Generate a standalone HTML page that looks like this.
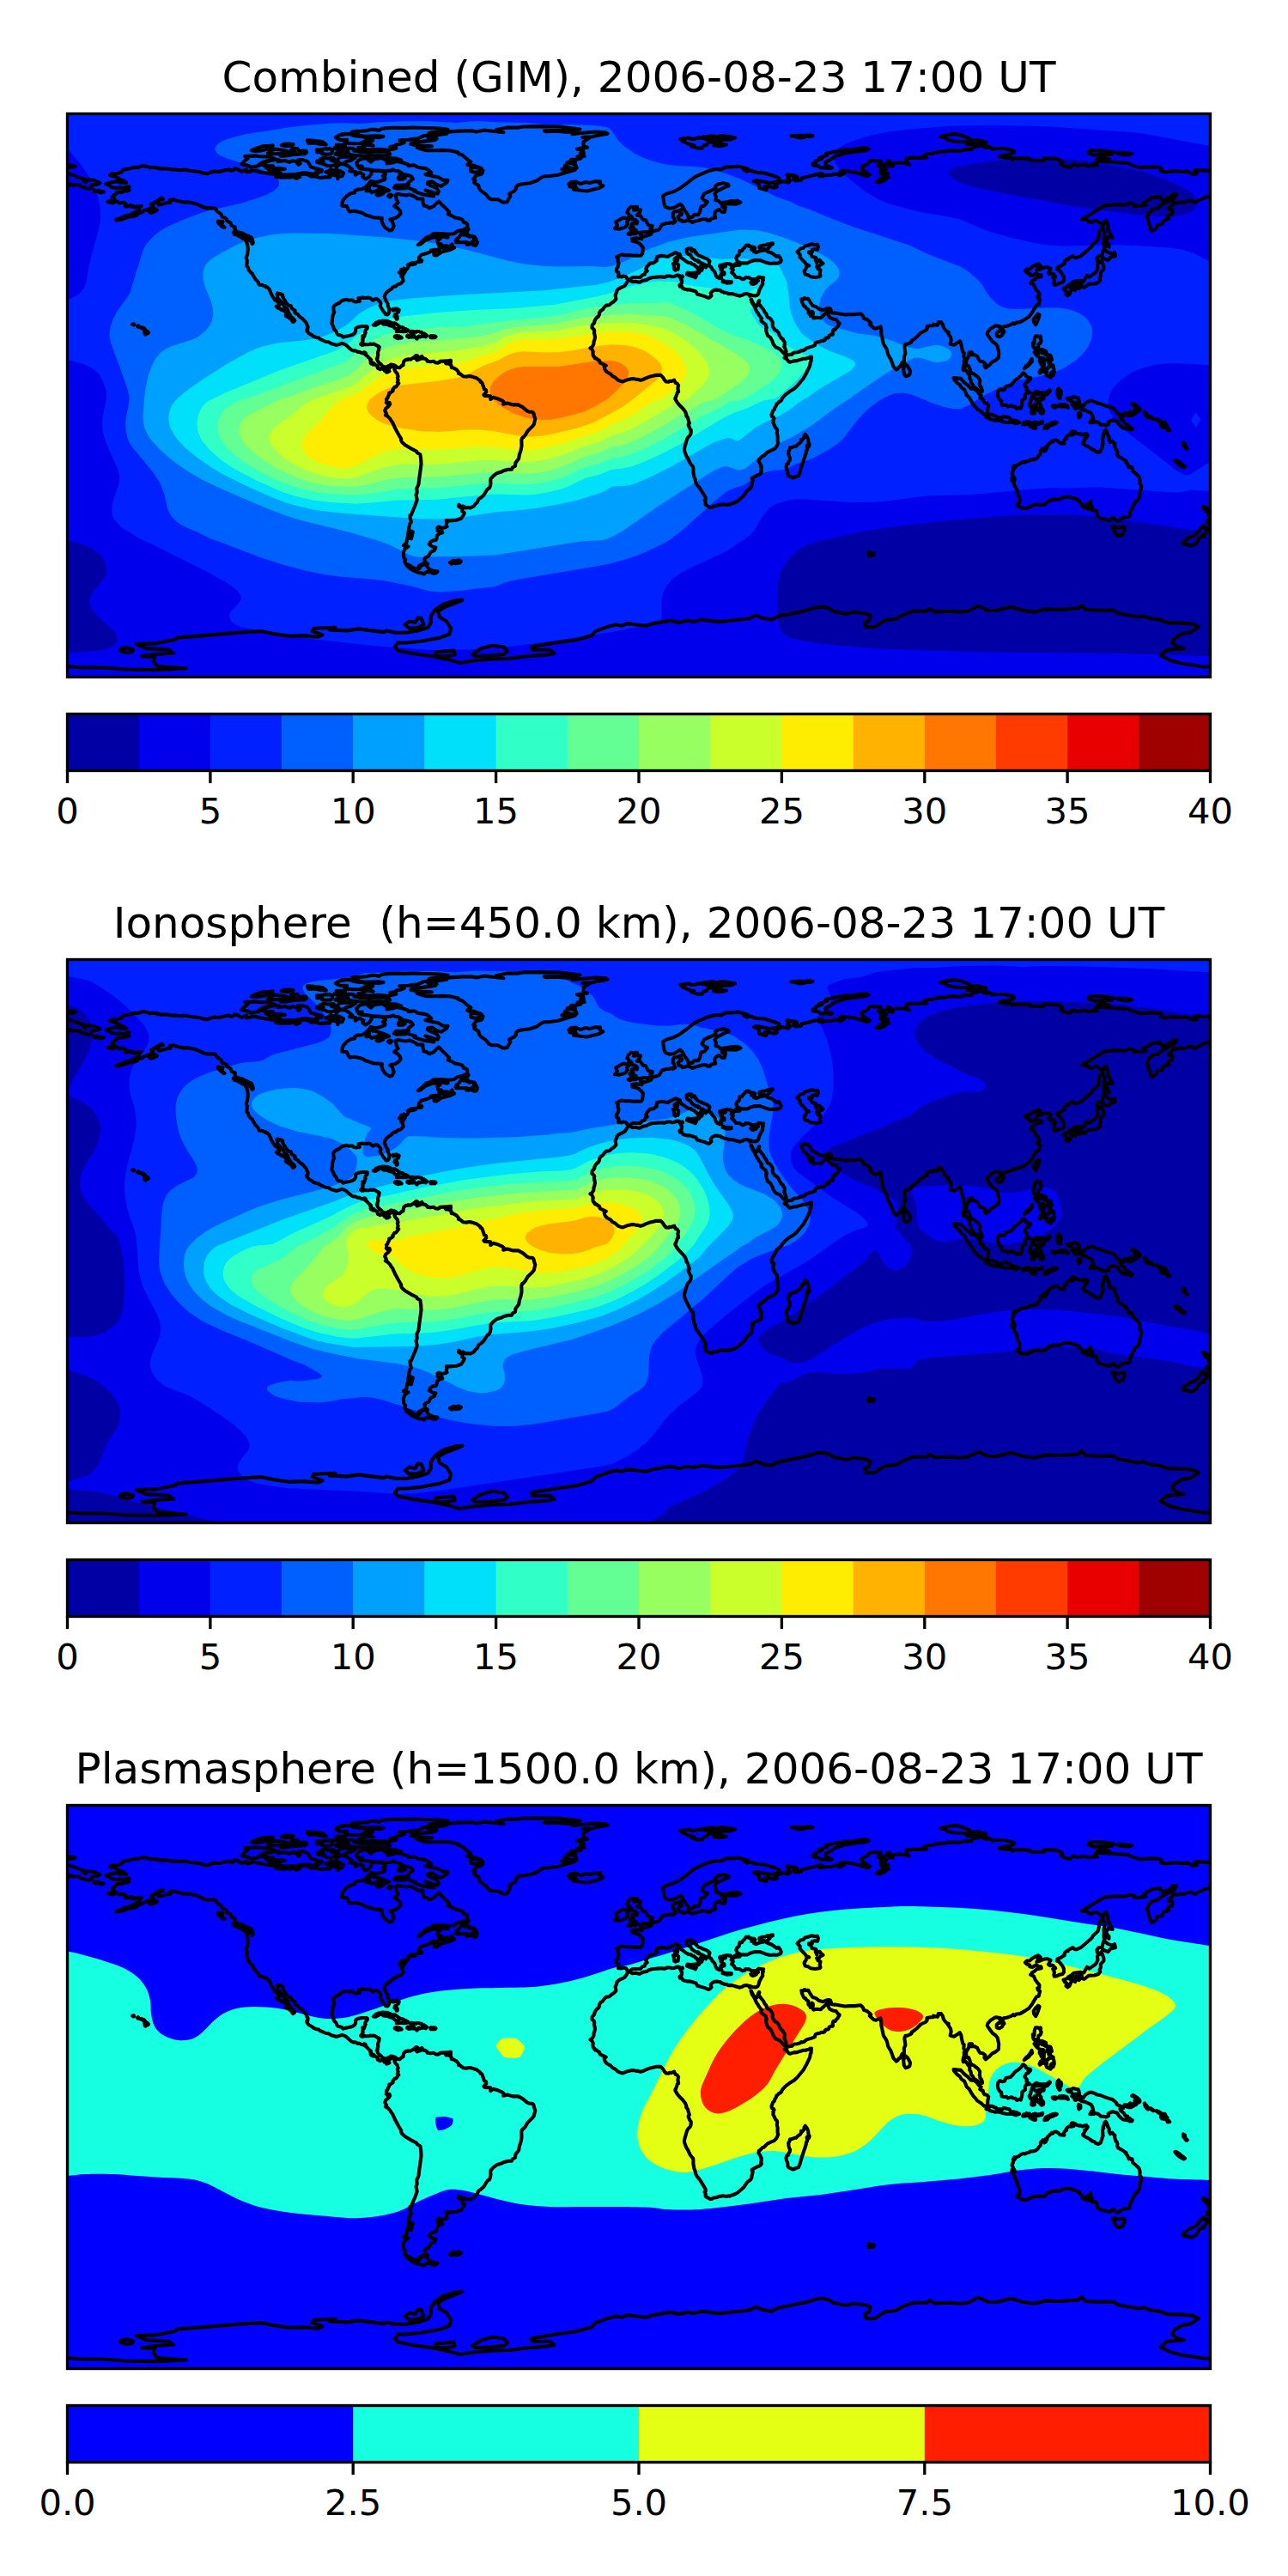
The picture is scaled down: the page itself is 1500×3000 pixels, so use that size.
<!DOCTYPE html>
<html lang="en"><head><meta charset="utf-8"><title>GIM / Ionosphere / Plasmasphere TEC maps</title>
<style>html,body{margin:0;padding:0;background:#fff}body{width:1500px;height:3000px;overflow:hidden}svg{display:block}text{font-family:"DejaVu Sans","Liberation Sans",sans-serif;fill:#000;white-space:pre}</style></head><body>
<svg width="1500" height="3000" viewBox="0 0 1500 3000">
<rect width="1500" height="3000" fill="#fff"/>
<defs><clipPath id="ax"><rect x="0" y="0" width="1331" height="656"/></clipPath>
<path id="coast" d="M44.6 81.7L49.9 80.2L58.1 78.4L61.1 80.2L68.6 80.2L65.6 78L61.1 76.5L58.5 74.6L54.7 73.1L49.5 71.6L51.7 69.7L58.5 69.7L63 67.9L64.1 66L67.9 64.5L71.6 64.1L78.7 62.2L82.1 62.6L87.7 60.4L93.4 61.5L96.4 63L97.9 62.2L104.2 62.6L103.9 63.4L109.9 64.1L113.6 63.7L121.5 64.9L128.6 65.2L131.6 65.7L136.5 65.1L142.1 66.2L146.2 66.7L153.3 67.5L159.3 69.4L163.1 69.7L166.5 68.2L171 67.1L176.6 67.5L182.2 66L188.2 64.9L190.8 66.4L193.5 65.6L194.6 63.7L197.2 64.1L203.2 67.5L208.5 64.9L208.8 67.9L213.3 67.1L214.8 66L219.3 66.4L225.3 67.9L234 69.4L239.2 70.1L243 69.7L247.8 71.6L242.6 73.5L249.3 74.2L259.5 73.9L262.8 73.2L266.6 75.4L270.7 73.5L266.9 72L269.2 70.7L273.9 70.5L276.7 70.1L280.1 70.9L283.8 73.1L287.9 72.7L294.3 74.6L300.3 73.9L305.9 73.9L305.2 71.6L308.6 70.9L314.6 72.4L314.6 75.7L316.8 72.7L319.8 72.7L321.7 69L317.6 66.7L313.1 65.2L313.4 61.1L317.9 58.5L322.8 58.9L326.6 60.7L331.8 64.9L328.4 66.7L335.6 67.5L335.2 71.2L337.4 69.7L340.4 68.2L344.9 70.9L343.8 73.5L347.2 76.1L351.3 73.5L353.9 70.1L354.3 66L359.6 66.4L365.2 66.7L370.1 68.6L370.4 70.5L367.4 72.7L370.1 74.6L369.7 76.5L362.6 79.1L357.3 79.5L353.2 78.4L352.1 80.2L348.7 83.6L347.6 85.1L343.1 87.7L337.8 88.1L334.8 89.6L334.4 92L330.3 92.6L325.4 95.6L321.7 99.7L320.2 102.7L319.8 107.2L325.4 107.6L326.9 111.4L328.8 114L334.1 113.2L341.2 114.7L344.9 116.2L347.6 118.1L352.1 119.2L356.2 120.7L362.2 121.1L366.3 121.5L365.9 124.5L367.1 128.2L369.7 132.4L375.3 136.1L378.3 135L380.2 130.9L378.3 125.2L375.7 123L381.7 121.5L385.8 118.9L388.1 116.2L387.7 113.6L385.1 110.2L380.6 107.6L385.1 103.5L383.2 100.1L382.1 94.5L384.7 93.4L391.1 94.5L394.8 94.9L398.2 94.1L401.5 95.2L406 97.5L407.2 99L413.9 99L413.9 102.4L415 107L418.4 107.6L421.4 109.9L426.7 107.6L430.4 103.5L432.7 102L435.7 105.4L440.5 109.9L444.7 114.5L443.2 117L448 118.9L451.4 121.1L457.5 122.2L460 123.4L461.5 126.4L464.2 127.1L465.7 128.2L466 132.7L463.4 133.8L460.8 135.3L454.4 136.5L449.9 139.8L443.5 140.2L435.3 139.5L429.7 139.5L425.9 139.8L422.9 142.5L418 144L412.6 149.2L408.3 152.6L411.3 151.8L417.5 147L425.4 144L430.8 143.6L434.2 145.5L430.8 147.7L431.9 151.8L433 154.8L437.9 156.7L444.3 156L448 151.8L448.4 154.5L450.7 156L446.2 158.2L437.5 160.5L434.2 162L429.7 165L427 164.6L426.7 161.2L433.4 158.2L427.4 158.2L423.3 159L423.8 160.1L419.9 162L415.8 163.2L412 164.2L410.2 166.5L409.4 167.2L409.4 169.5L410.5 171.3L412 171.3L411.7 170.2L412.8 171L412.5 172.1L410.2 172.5L408.3 172.5L405.3 173.2L401.5 173.6L398.6 174.7L404.2 174L405.3 174.7L401.2 175.8L397.6 175.3L396.3 176.2L397.6 176.6L396.7 179.2L394.1 182.2L393.8 181.1L392.9 181.1L391.8 180L392.6 182L393.3 182.6L393.3 184.1L392.2 185.6L390.3 188.6L389.9 188.2L391.1 186L389.2 184.5L388.6 181.3L388.1 183L388.8 185.2L386.2 184.8L388.8 186L388.8 189.5L390 189.7L390.3 190.8L391.1 194.6L388.4 197.6L384.7 198.7L382.2 201L380.2 201.1L378.3 202.5L377.9 203.6L373.8 206.2L371.6 208.1L370.1 210.3L369.3 213L370.1 215.6L371.3 218.6L373.1 221.2L373.1 223.1L374.6 227.2L374.6 231.3L373.4 233.6L372.3 234L370.4 233.6L370.1 232.1L368.6 231L366.7 228L364.8 225L364.1 223.5L365 221L364.1 219L361.1 216L359.6 215.2L355.8 217.1L355.1 216.7L353.2 215L350.9 214.1L346.8 214.5L343.4 214.1L340.4 214.5L338.9 214.8L339.7 216L339.7 217.5L340.4 218.2L339.7 218.6L338.2 218.2L336.9 219L334.1 218.8L331.4 216.7L328.1 217.3L325.4 216.3L323 216.7L319.8 217.5L316.4 220.5L312.7 222L310.8 223.8L309.7 225.3L310.1 229.8L310.8 231L309.3 234.4L308.6 237L308.2 242.2L307.8 244.1L308.6 246L309.7 247.8L310.4 250.8L313.1 253.5L313.8 255.7L315.3 257.6L319.4 258.3L320.9 260.2L324.3 259.1L326.9 258.7L329.9 258L332.2 257.2L334.4 255.7L335.6 253.5L335.7 250.5L336.3 249.3L338.9 248.2L343.1 247.5L346.1 247.5L348.3 247.5L349.4 248.2L349.2 249.9L347.2 252L346.4 254.6L347.2 255L346.4 256.8L345.7 259.5L344.6 258.7L343.8 258.7L343.8 259.3L344.6 259.3L344.6 260.2L343.8 262.1L344.2 262.5L343.8 264L344.2 264.3L343.4 266.2L342.7 266.9L342.3 267.3L341.6 268.4L342.7 269.2L343.1 268.4L344.2 269.2L344.6 269.2L345.3 268.4L346.4 268.4L346.8 268.8L347.2 268.8L349.1 268.8L350.9 268.8L352.1 268.4L352.4 268.1L353.6 268.3L354.7 268.4L355.4 268.4L356.3 268.1L358.1 268.4L358.4 268.8L359.9 269.6L360.7 270.3L362.2 270.7L363.3 271.8L362.9 272.2L362.6 272.9L362.9 274.4L362.2 275.7L361.8 277.1L361.4 278.9L361.8 279.7L361.8 281.6L361.4 281.9L361.1 283.4L361.2 284.6L360.3 285.3L360.7 286.4L361.1 287.2L362.2 289.1L363.7 290.6L365.6 292.1L366.7 293.6L366.7 294.4L368.2 294.5L368.6 294.3L369.7 295.1L371.6 294.8L373.1 293.9L375.3 293.2L376.4 292.1L378.7 292.3L378.3 292.6L380.6 292.8L382.1 293.6L383.6 294.7L384.7 295.4L386.9 295.8L389.6 293.2L391.1 292.8L391.1 291.3L391.8 288.3L394.1 286.4L396.3 286.4L396.7 285.7L399.7 286.1L402.7 284.2L404.2 283.2L405.9 281.6L407.2 281.6L408.3 282.7L407.5 283.8L405 284.6L407.5 286.9L407.2 286.9L411.7 285.3L411.3 283.6L412.8 282.3L413.9 284.9L416.5 285.3L419.2 287.2L419.2 288.3L422.5 288.7L426.7 288.3L428.5 289.8L431.5 290.2L433.8 289.1L433.8 288.3L442.8 287.9L439.8 289.1L440.9 290.9L443.9 290.9L446.9 292.8L447.3 295.8L449.2 295.8L453.3 298.1L455.5 300.7L455.5 302.6L457 302.6L460.8 305.7L465.3 306.3L465.7 305.8L468.7 305.6L472.6 306.5L473.9 307.1L476.5 307.8L480.7 310.8L481 312.3L482.5 312.7L483.3 314.4L485.5 320.9L487.5 321.7L487.8 324.1L484.8 327.3L485.9 328.4L492.7 328.8L492.7 332.6L495.7 330.3L500.2 331.4L506.5 334.1L508.4 335.9L507.7 338.2L512.2 337.1L519.3 338.9L525 338.9L530.5 341.9L535.4 346.1L538 347.2L541.4 347.2L542.9 348.7L544 353.2L544.8 355.4L543.3 361.8L541.4 364.1L536.1 369.3L533.5 373.8L530.9 376.8L529.8 377.2L528.8 379.8L529 386.9L527.9 392.6L526.4 396.7L525.7 401.5L521.9 406.4L521.5 410.2L518.3 412L517.4 414.2L513.3 414.2L507.7 415.8L504.7 417.3L500.5 418.4L496.4 421.4L493 425.2L492.7 427.8L493 430L492.3 433.8L491.5 435.7L488.9 437.5L484.8 444.2L481.4 447.3L478.8 448.8L477.3 452.5L474.7 454.8L473.2 457L469 459.1L466 458.5L464.2 458.9L460.8 457L458.2 457.4L455.9 455.2L455.5 457L460.4 460.4L459.7 463L462.3 464.5L461.9 466.4L458.5 471.3L452.9 473.2L445.4 473.9L441.3 473.5L442 475.8L441.3 478.8L442 480.7L439.8 481.8L435.7 482.5L432.3 481L430.8 482.2L431.2 485.9L433.8 487L435.7 485.5L436.8 487.8L433.4 488.9L430.4 491.2L430 494.9L428.9 496.8L425.5 496.8L422.5 499L421.4 501.7L425.2 504.3L428.9 505L427.5 508.4L422.9 510.7L420.7 515.2L417.3 516.7L415.8 518.2L416.9 522.3L419.5 524.2L417.7 524.2L414.3 523.6L412.6 524.9L409.4 526.4L408.7 529.8L407.2 530.2L402.7 528.7L398.6 526L394.1 524.2L392.6 521.5L393.8 519.3L391.8 517L391.4 510.7L392.9 506.9L397.1 503.9L391.4 502.8L394.8 499.8L395.9 493.4L400.4 494.9L402.3 487L399.7 485.9L398.6 490.8L396.3 490L397.4 484.8L398.6 477.7L400.4 475.4L399.3 471.7L398.9 467.5L400.4 467.2L402.7 461.2L405.3 455.2L407.2 449.5L406 443.9L407.2 440.9L406.8 436.4L409 431.5L409.8 424.4L410.9 416.5L412 408.3L411.7 402.3L410.9 396.7L407.2 394.8L406.8 393.3L399.7 389.6L392.9 385.4L389.9 382.8L388.4 379.8L388.8 378.7L385.8 373.8L382.1 367.1L378.7 359.6L377.2 357.7L375.7 355.1L373.1 352.4L370.4 350.9L371.6 349.4L369.7 345.7L370.8 343.1L373.8 340.8L375.7 338.2L375 336.3L373.4 338.2L371.3 336.3L371.9 335.4L371.6 332.2L372.7 331.4L373.4 329.2L374.9 326.6L374.6 325.1L376.8 324.4L379.1 322.8L378.7 321.7L380.2 319.4L380.9 318.3L382.8 317.9L385.8 313.8L384.3 312.7L385.1 310.4L384.3 307.1L385.1 306.3L384.3 302.9L382.8 301.1L381.7 299.9L380.9 297.7L381.7 296.9L380.9 296.6L380.2 295.4L378.3 294.3L376.4 294.7L375.7 295.8L374.2 296.9L373.4 296.9L373.1 297.7L374.9 299.9L373.8 300.3L373.4 300.7L371.6 301.1L370.8 298.8L370.4 299.6L369.3 299.2L368.6 297.7L367.1 297.3L365.9 296.9L364.4 296.9L364.1 297.7L363.8 297.3L361.8 296.6L361.1 295.4L361.4 295.1L361.4 293.9L360.3 293.2L357.7 292.1L357.3 290.9L356.3 290.2L356.6 291.3L355.8 292.1L355.1 291.3L353.6 290.9L353.2 290.2L353.2 289.1L353.6 287.6L352.8 287.2L353.6 286.4L350.6 283.8L349.8 282.7L347.9 281.2L346.1 279.7L347.2 279.7L347.6 279.4L346.8 278.2L345.7 277.8L345.3 278.9L343.1 278.6L341.9 278.2L340.1 277.4L338.2 277.4L337.1 276.7L335.2 275.9L332.9 275.9L331.1 275.2L329.2 273.7L324.7 269.6L322.8 268.4L319.8 267.3L317.6 268.1L314.6 269L312.7 269.4L310.1 268.4L307.4 267.7L304.1 265.8L301.1 265.5L296.9 263.6L293.6 262.1L292.8 261L290.6 260.7L286.8 259.5L285.3 258L281.2 255.7L279.3 253.5L278.6 251.6L279.7 251.2L279.3 250.1L280.1 249L280.1 247.8L278.9 246L278.6 244.5L277.4 242.6L274.1 238.8L270.3 236.2L268.4 233.6L265.1 232.1L264.7 231.3L265.1 229.1L263.2 228L261 226.1L260.2 223.5L258 223.5L255.7 221.2L254.2 219.5L253.8 218.2L252 215.6L250.5 212.6L250.8 211.1L247.8 209.6L246.7 210L244.5 208.8L244.1 210.3L244.5 212.2L244.8 214.8L250.1 220.1L250.8 221.6L251.4 221.6L252 223.8L253.1 225L254.2 226.1L256.5 228L257.6 231.7L258.7 233.2L259.8 235.1L259.8 237L261.7 237L263.2 238.8L264.7 240.3L264.7 241.1L262.8 242.6L262.5 242.6L261.3 240.3L258.9 238.1L256.1 236.2L254.2 235.5L254.6 232.5L253.8 230.6L252 229.5L249.3 227.6L249 228.3L248.2 227.2L245.6 226.5L243.3 224.2L243.8 223.8L245.2 224.2L246.7 222.7L246.7 220.8L244.1 218.2L241.8 217.1L240.3 214.8L238.8 212.6L237.3 209.6L235.8 206.2L235.1 204.3L232.8 202.1L231 201.7L230.6 200.6L228.3 200.2L227.2 199.5L223.5 199.1L222.7 198.3L222.3 196.1L218.6 192.3L215.6 187.1L215.6 186.3L213.9 185.2L211.1 182L210.3 178.8L208.5 177L209.2 174L209.2 170.6L208.1 167.6L209.6 164.2L210.3 157.5L209.6 152.2L208.5 149.2L207.3 147.3L207.7 146.6L213.3 148.1L215.2 151.5L216.3 150.3L215.6 147.3L214.5 144.3L213.3 143.6L206.6 140.7L204 139.1L197.2 137.6L195 134.2L195.3 132L190.8 130.1L190.1 127.1L185.6 124.5L185.6 122.6L183.3 121.1L180.1 120L178.8 116.6L174.3 113.6L172.1 110.2L168.7 109.9L162.7 109.9L158.2 108.7L150.3 105L140.2 102.7L135.1 103.1L127.9 101.2L123.4 99.7L119.2 100.5L120 103.2L117.7 103.5L113.6 104.2L110.2 105.4L106.1 106.1L105.4 104.2L107.2 100.5L111.4 99.4L110.2 98.2L105.4 100.5L102.7 102.7L97.5 105.4L100.1 107.2L96.7 110.2L92.6 111.7L88.9 112.9L87.7 114.4L82.1 116.2L81 118.1L76.5 119.6L73.9 119.6L70.5 120.4L66.7 121.9L63.4 123L57 124.1L56.6 123.4L60.7 121.9L64.1 120.7L68.2 118.5L72.7 118.1L74.6 116.6L79.9 114.4L80.6 113.6L83.6 112.1L84 109.5L86.2 107.2L81.7 108.4L80.6 107.6L78.4 109.1L76.1 107.2L75.1 108.4L73.5 106.5L69.7 108L67.6 108L67.1 105.7L67.9 104.6L65.6 103.1L60.7 103.9L57.4 102L55.1 101.2L54.7 99L52.1 97.5L53.6 95.2L56.6 93.4L57.7 91.5L60.7 91.1L63.4 91.5L66.4 90L69.4 90L72 88.9L71.4 87.4L69.4 86.6L72 85.1L69.7 85.1L65.6 85.9L64.5 87L61.9 85.9L56.4 86.6L51 85.5L49.5 84L44.6 81.7ZM407.2 39.4L416.9 38.2L424.4 37.9L408.7 37.1L400 35.6L400.4 34.1L428.5 30.4L430 28.9L419.9 27.7L422.9 26.2L438.7 23.6L441.7 23.2L439.8 21.4L448.8 20.6L460.4 19.9L472 19.9L476.2 21L485.9 19.1L494.9 20.2L500.2 20.7L508 21.7L499 19.9L499.4 18.4L512.2 16.1L525.3 16.1L530.2 15L543.3 14.6L573.3 15L596.9 18L589.8 19.5L575.5 19.5L555.3 19.9L557.1 20.6L570.3 20.2L581.9 21.4L589 20.2L592 21.7L587.9 23.6L597.6 22.5L615.6 21L626.9 21.7L629.1 23.2L613.8 25.9L611.7 26.8L599.9 27.4L608.5 27.7L604 30.4L601 32.6L601 37.1L605.5 39.4L599.9 39.7L593.5 40.9L600.6 42.7L601.4 46.1L597.3 46.1L602.1 49.5L593.9 49.9L598.4 51.4L596.9 52.5L591.6 53.2L586.4 53.2L591.3 55.9L591.3 57.4L583.8 55.9L581.9 57L587.1 57.7L592 60L593.1 63L586.8 63.7L583.8 62.2L579.3 60.4L580.4 62.6L575.9 64.9L586 64.9L591.3 65.2L581.1 68.2L571 71.2L559.8 72.7L555.6 72.7L551.9 74.2L546.6 78L538.4 80.7L536.1 81L530.9 81.7L525.7 82.5L522.3 85.1L522.3 87.7L520.4 90L514.4 93L515.9 96L514 99L512.2 102.7L506.9 103.1L501.3 99.7L493.8 99.7L490.4 97.9L487.8 94.1L481.4 89.6L479.5 87L478.8 83.6L473.5 80.2L475 77.6L472.5 76.1L476.2 71.6L481.8 70.5L483.3 69L484 66L479.9 67.1L477.7 67.9L474.3 68.2L469.8 67.1L469.6 64.5L470.9 62.6L474.7 62.6L482.2 63.4L475.8 61.1L472.4 60L468.7 60.4L465.7 59.2L469.8 55.9L467.5 54.4L464.5 52.1L460 48L455.2 46.5L455.2 45L445 42.7L437.2 42.4L427 42.7L418 42.7L413.5 41.6ZM1349.7 84.4L1344.9 86.2L1340 85.9L1343.4 87.7L1345.6 90.9L1347.5 91.9L1347.9 93.4L1346.7 94.5L1340 93.7L1329.5 96.4L1326.1 96.9L1320.3 99.5L1314.9 102L1313.4 103.5L1308.1 100.9L1298.4 103.9L1296.5 102.4L1293.1 104.2L1287.9 103.5L1286.8 106.1L1282.3 109.9L1282.4 111.4L1286.8 112.1L1286.4 117.4L1282.6 117.7L1281.1 120.7L1282.6 122.2L1276.3 124.5L1274.8 128.6L1269.1 129.5L1268 133.5L1262.8 136.8L1261.3 134.2L1259.7 128.6L1257.5 120.4L1259.4 115.1L1262.8 112.9L1262.8 111.4L1268.8 110.2L1275.3 105.7L1281.9 102L1288.6 99L1291.6 93.5L1287.1 93.7L1284.9 97.1L1275.1 101.2L1272.1 96.4L1262.4 97.9L1253 103.9L1256 106.5L1247.8 107.2L1242.1 107.6L1242.1 105L1236.5 104.2L1231.6 106.1L1220.4 105.7L1208 106.9L1195.9 114L1181.4 123L1187.4 123.4L1189.3 125.7L1193 126.4L1195.3 124.5L1199.4 124.9L1204.6 129L1205 132.4L1202 136.1L1201.6 140.6L1200.1 146.6L1194.5 151.8L1193 154.5L1180.7 165.3L1175.4 167.6L1173.2 167.6L1170.9 165.7L1165.7 168.3L1165.3 169.8L1163.8 169.5L1162.2 171L1161.2 172.1L1161.2 174.7L1159.3 175.5L1158.5 176.2L1157 177.3L1154.7 178.1L1152.9 178.8L1152.9 180.7L1152.5 181.1L1154 181.1L1155.9 183.3L1159.3 187.8L1160.4 190.1L1160.4 194.6L1158.9 196.5L1155.5 197.2L1152.5 198.7L1149.2 199.1L1148.8 197.2L1149.5 194.2L1147.7 190.5L1150.7 189.7L1148 186.7L1146.2 186L1144.7 186.7L1142.4 185.2L1143.5 183.7L1143.9 182.6L1145 180.3L1142.4 179.2L1140.9 178.5L1135.7 179.6L1132.7 181.1L1128.7 182.2L1130.8 180.3L1130 179L1133 176.6L1130.8 174.7L1127.8 175.8L1123.3 178.5L1121 180.9L1117.3 181.1L1115.4 183L1117.7 185.2L1120.7 186L1120.7 187.8L1123.7 188.6L1127.8 186L1131.2 187.5L1133.8 187.7L1134.2 189.7L1128.9 190.7L1127 192.7L1123.7 194.6L1121.6 197.2L1125.5 199.1L1127 202.8L1129.3 206.2L1131.9 209.2L1131.9 212.2L1129.7 213L1130.4 215.2L1132.7 216.3L1131.9 219.3L1131.2 222.3L1128.9 222.7L1126.3 226.6L1123.3 231.7L1119.9 236.2L1114.7 239.6L1109.4 242.6L1105.3 243L1102.9 244.8L1101.5 243.7L1099.3 245.4L1094 247.3L1090.3 247.8L1088.8 252L1086.9 252L1085.8 249.3L1086.9 247.8L1081.7 246.7L1080 247.3L1074.9 250.5L1071.9 254L1071.2 256.5L1073.8 260.6L1077.5 265.5L1080.9 267.7L1083.2 270.7L1084.7 277.8L1084.3 284.2L1081.3 286.8L1076.8 289.1L1073.8 292.4L1069.3 295.8L1067.8 293.6L1068.9 290.9L1065.9 288.7L1062.9 288.3L1061.4 286.1L1059.6 282.3L1056.2 280.6L1052.8 280.8L1053.5 277.8L1050.2 277.8L1049.8 281.9L1046.6 287.4L1046.8 293.6L1049.4 293.6L1050.9 296.9L1051.7 300.3L1053.6 302.2L1055.8 302.9L1057.7 304.8L1058.8 305.2L1060.9 307.4L1062.6 309.9L1062.6 312.3L1062.2 314.2L1062.6 315.3L1062.9 317.6L1064.2 318.7L1065.5 322.1L1065.5 323.2L1062.9 323.6L1059.6 320.7L1055.1 317.7L1054.7 315.8L1052.4 313.4L1052.1 310.1L1050.6 308.2L1050.9 305.6L1050.2 303.7L1048.7 302.4L1047.9 300.7L1046 298.4L1044.2 296.6L1043.4 298.8L1042.9 296.8L1043.4 294.3L1044.4 290.9L1044.2 287.9L1045.3 285.3L1043.8 283.1L1044.2 278.9L1042.7 277.1L1041.6 272.6L1040.8 267.7L1039.3 264.7L1036.7 266.6L1032.6 269.2L1030.3 268.8L1028.1 268.1L1029.2 263.2L1028.4 259.8L1025.4 255.3L1026.2 254.2L1023.9 253.5L1021.3 250.5L1020.2 248.6L1019.8 246.7L1019.1 244.8L1017.6 242.6L1014.2 242.6L1014.6 244.1L1013.4 246.3L1011.6 245.6L1011.2 246L1008.6 245.2L1008.2 246.7L1005.6 246.7L1001 247.5L1001.1 250.5L999.2 252.5L993.9 255L989.4 259.5L986.8 261.7L983.1 264.3L983.1 265.8L981.2 266.9L977.8 268.3L975.9 268.4L974.8 271.4L975.6 276.3L975.9 279.3L974.4 282.7L974.4 289.1L972.2 289.4L970.7 292.4L971.8 293.6L968.4 294.7L966.9 297.1L965.4 298.2L962.1 294.7L960.2 289.4L958.9 285.7L957.6 283.8L955.7 280.4L954.6 275.6L953.8 273.3L950.4 268.1L948.9 261L947.8 256.1L947.8 251.6L947.1 247.8L941.8 250.1L939.2 249.7L934.3 245.2L935.8 243.7L934.9 242.6L930.6 239.2L927.6 238.5L926.5 235.5L923.8 232.8L916.7 233.6L910.7 233.6L905.5 234L898.3 232.8L894.2 232.1L890.1 231.7L888.5 226.9L886.7 226.5L883.7 227L880 228.7L875.5 227.6L871.7 224.6L868 223.5L865.5 220.1L862.7 215.2L860.8 215.6L858.2 214.5L857.1 216L854.7 215.7L855.6 217.5L855.2 218.2L856.3 221L857.8 224.2L859.7 225L860.5 226.5L862.9 228L863.1 229.5L862.7 231L863.1 232.1L864.2 233.2L865 234.3L865.3 235.3L866.1 234.3L867.2 230.2L868.3 231.3L868.3 233.6L867.6 235.8L868.3 237.3L869.1 238.1L872.1 237.3L877.3 237.7L880 235.1L882.6 232.8L885.2 230.2L886.3 229.1L886.7 229.5L886.3 234.7L887.8 237.3L890.1 238.5L892.7 239.2L895 239.6L896.8 241.9L897.8 243L899.1 243.7L899.1 244.5L897.6 246.7L897.2 247.8L895.7 249L894.2 251.6L892.3 251.2L891.6 252.3L891.2 254.2L891.6 256.5L891.2 257.2L889.3 257.2L887.1 258.3L886.7 260.2L886 261L883.7 261L882.2 262.1L882.2 263.6L880.3 264.5L878.1 264.3L875.8 265.5L874 265.6L871.3 266.6L870.6 268.4L870.6 269.6L866.8 271.1L860.8 272.9L857.5 275.6L855.6 275.9L854.5 275.6L852.6 277.1L850 277.8L847 278L845.8 278.2L845.1 279.3L844 279.5L843.6 280.4L841.7 280.4L840.6 280.8L838 280.8L836.8 278.6L837 276.3L836.5 275.2L835.7 272.6L834.6 271.1L835.3 270.7L835 269.2L835.3 268.4L835.3 266.8L834.8 265.1L833.7 264L833.5 262.5L831.4 261.3L829.3 258L828.2 255L825.8 252.3L824.1 252L821.5 248.2L821.1 245.6L821.5 243.3L819.2 239.2L817.3 237.7L815.5 237L814.2 234.7L814.3 234L813.2 232.1L812.1 231.3L810.8 228.3L808.3 225.3L806.5 222.7L804.6 222.7L805.3 220.8L805.3 219.5L805.9 218L805.7 217.5L804.6 219L803.8 222L802.9 223.8L802 224.4L800.8 223.2L799 221.6L796.4 216.1L796 216.3L797.5 220.5L799.9 224.2L802.7 230.2L804.2 232.1L805.3 234.3L808.7 238.5L808 239L808 241.5L812.5 244.8L813.2 245.6L814.3 249.3L813.5 250.1L814 253.8L815.5 258.3L818.8 260.6L821.1 265.1L822.2 268.4L824.8 271.8L829.3 273.7L834.6 279.4L836.5 280.4L837.2 281.6L837.2 283.2L835 284.2L836.7 285.1L837.9 285.8L840.2 288.9L842.1 289.1L845.8 287.9L849.6 287.6L853 286.4L854.8 286.1L856.3 285.3L858.2 285.3L859.7 285.3L861.2 284.6L863.5 284.2L865 283.1L866.5 283.1L866.5 284.2L866.1 286.1L866.1 288.3L865.3 289.4L864.6 293.6L862.7 297.7L860.3 302.6L857.1 308.2L853.7 312.3L849.6 317.2L845.8 320.6L840.2 324.1L836.5 326.9L832.3 331.4L831.6 333.5L830.8 334.4L828.2 335.9L827.1 337.4L826 337.8L825.2 340.4L824.1 341.9L823.3 344.4L821.8 345.7L820 350.2L820.3 352.4L822.6 353.6L823 354.7L821.8 356.9L822.2 358.1L821.8 359.9L823 362.2L824.7 365.9L826 366.7L826.7 368.6L826.3 372.3L827.1 375.3L827.1 381.3L827.8 383.2L826.7 385.8L825.2 388.4L823 390.7L819.2 392.2L815.1 394.1L811 398.2L809.5 398.6L806.8 401.4L805.3 402.3L805 404.9L806.8 407.7L807.6 409.8L807.6 410.9L808.3 410.9L808 414.7L807.6 416.2L808.3 416.9L808 418.4L806.1 419.9L803.1 421L798.6 423.3L797.1 424.4L797.5 425.9L798.2 426.3L797.9 428.2L797.1 431.2L796.7 434.2L795.6 435.9L793 437.9L792.2 438.3L790.7 440.2L789.6 442L787.7 444.7L783.2 448.8L780.6 451L778 452.5L773.9 454L772 454.4L771.6 455.2L769.4 454.8L767.5 455.5L763.4 454.8L761.1 455.2L759.6 455.2L755.5 456.7L752.5 457L750.2 458.5L748.4 458.5L746.9 457.4L745.7 457L743.9 455.5L743.9 455.9L743.1 455.2L743.3 452.9L742 450.3L743.3 449.5L743.1 446.9L740.9 443.2L739 440.2L736 435.3L733.4 432.3L731.9 429.7L731.1 425.9L730 423.3L728.9 417.5L728.9 413.2L728.5 410.9L727 409.4L724.9 406.4L722.9 401.9L720.6 398.2L718.7 392.9L718.4 390.7L719.1 387.3L720.2 383.9L720.6 382.1L721.7 378.7L722.5 377.2L724.7 374.9L725.9 373.1L726.2 370.4L726.2 368.2L725.1 367.1L723.2 362.6L723.2 361.7L724.4 360.3L723.2 356.6L722.5 353.9L720.6 351.7L721 350.9L720.6 349.8L719.5 346.8L716.5 343L712.7 339.2L710.1 335.9L707.9 332.2L707.9 331.1L708.6 329.9L709.7 326.9L710.5 324.3L711.6 323.9L710.9 319.4L711.6 316.4L710.1 314.2L708.2 313.4L707.5 311.8L706.7 311.2L706.7 310.1L703 311.6L701.5 311.2L700 312.3L697 311.9L695.1 309.7L693.6 307.1L691 304.4L688.4 304.4L685 304.4L682 305.2L678.8 305.9L673 308.2L670.7 309.3L667.5 310.4L664 309.3L662.5 309.4L659.9 308.6L657.6 308.6L653.1 309.4L646.8 311.9L646 311.6L645 311.7L641.1 310.1L637.8 307.1L634.4 305.2L632.1 302.6L631 302.2L628.4 300.7L626.5 298.8L625.8 297.3L625.2 294.7L627.3 293.2L625.4 292.4L622.4 290.9L621.3 290.6L620.1 289.8L619.8 287.9L619.4 287.2L618.3 286.8L616 284.9L614.5 284.9L613.8 283.8L613.8 283.2L612.6 282.3L612.3 281.6L611.9 278.8L612.3 277.1L610.8 274.1L608.9 272.9L610.4 272.2L612.3 269.6L613 267.7L613 265.5L613.8 263.6L614.5 260.2L613.8 256.5L613.4 254.6L613.8 252.7L613 250.8L610.9 249.3L611.1 247.8L611.2 246L612.6 244.8L613.8 243L613.8 241.8L615 239.2L617.1 236.6L618.3 236.2L619.4 234L619.4 232.1L620.9 229.6L623.1 228.3L625.8 224.6L627.6 223.1L631 222.7L634 220.1L635.9 219L638.9 216L638.1 211.1L639.6 208.1L640 205.8L642.3 203.6L646.2 201.7L649 200.2L651.6 196.5L652.8 193.8L655.4 194L657.6 195.7L661.4 195.3L665.1 196.1L666.6 196.1L670.4 194.2L674.5 193.5L676.7 192L680.5 190.8L686.9 190.1L692.9 189.7L694.7 190.5L698.5 189L702.2 189L703.7 189.7L706.4 189.5L710.5 188L713.1 188.6L713.1 190.5L716.1 189L716.5 189.7L714.6 191.6L714.6 193.5L715.7 194.2L715.4 197.6L712.9 199.5L713.5 201.3L715.7 201.3L716.5 203.2L718 204L722.5 205.1L724 204.7L727 205.5L731.9 207L733.7 210.3L737.1 211.1L742.4 212.6L746.5 214.5L748.4 213.7L750 211.9L749.1 209L750.2 207.3L753 205.5L755.5 205.1L760.7 205.8L761.9 207.3L763.4 207.3L764.5 208.1L768.2 208.5L769.4 209.6L774.2 209.6L778 210.7L781.5 211.8L783.2 212.2L786.2 211.1L787.7 210L791 209.6L793.7 210.3L794.7 212.2L795.6 210.7L798.6 211.8L801.6 211.9L803.5 211.1L804.6 209.8L805.2 207.7L805.9 205.1L806.5 204L808 201L809.8 198.3L809.5 195.3L810.4 193.8L809.1 192L810.6 190.7L808.2 190.8L805 190.1L802.3 192.3L796.7 192.7L793.7 190.8L789.6 190.5L788.9 192L786.2 192.7L782.5 190.5L778.4 190.5L776.1 186.9L773.5 184.8L775.4 181.9L773.1 180L777.2 176.6L782.9 176.2L784.4 173.6L791.7 174L796.2 171.7L800.5 170.6L806.8 170.6L813.2 173.2L818.7 174.5L823 174L826.3 174.3L830.7 172.5L831.2 170.7L830.3 168.2L828.2 165.3L826 166.5L824.7 165.3L820 162L815.5 160.5L812.5 158.6L815.1 157.8L818.1 154.8L816.2 153.3L821.5 151.7L821.5 150.7L818.1 151.5L815.1 151.8L812.7 153L809.1 153.3L805.9 154.5L806.1 156.9L808 157.8L811.7 157.5L811 159L806.8 159.7L802 161.6L799.7 160.8L800.5 159.3L796.5 158.2L797.1 157.5L800.8 156.2L799.7 155.2L793.7 154.5L793.7 153L790.2 153.3L788.9 155.6L785.9 158.2L785.9 159.3L784 160.1L782.9 159.7L782.1 164.2L779.9 165.7L778.7 168.3L779.9 170.6L780.2 172.1L783.6 173.2L782.9 174.2L778.4 174.3L776.9 175.5L773.9 177.5L772.4 175.8L772.6 175.1L770.1 174.9L768.2 174.5L763.7 175.5L766.4 177.7L764.5 178.2L762.2 178.2L760.4 176.2L759.6 177L760.4 179.2L762.4 181.1L761 182L763 183.7L764.9 184.8L765 186.9L761.5 186L762.6 187.8L760.4 188.2L761.7 191.6L759.2 191.6L756.2 190.1L754.7 187.1L754 184.5L752.5 182.6L750.6 180.7L750.4 179.6L749.8 179.2L749.7 178.5L747.6 177.2L747.2 175.5L747.6 172.8L748 171.7L747.6 171L746.9 170.8L745.7 169.5L744 168.7L740.5 167.4L738.2 166.1L734.9 165L731.9 162.3L732.6 162L730.7 160.5L730.7 159L728.5 158.6L727.2 160.1L726.1 158.8L726.2 157.5L727 157.1L724 156.7L721 157.8L721.4 159.7L721 160.8L722.1 162.7L725.5 164.6L727.4 167.6L731.5 170.7L734.5 170.7L735.6 171.7L734.5 172.5L737.9 173.6L740.5 174.7L743.9 176.6L744.2 177.3L743.5 178.8L741.2 177L738.2 176.6L736.4 178.8L739.4 180.3L738.8 182.2L737.1 182.6L735.2 185.6L733.7 186L733.7 184.8L734.5 182.8L735.2 182L733.7 180L732.6 177.9L731.1 177.3L730 175.8L727.6 175.1L725.9 173.6L723.2 173.4L720.2 171.7L716.9 169.1L714.2 167.2L713.1 163.5L711.2 163.1L708.2 161.6L706.4 162.3L704.3 163.8L702.6 164.2L699.2 166.5L692.1 165.3L686.5 166.5L686.1 168.7L686.3 171L682.7 173.6L677.9 174.3L677.5 175.5L675.2 177.7L673.7 180.7L675.2 183L673 184.5L672.2 187.1L669.6 187.8L667 190.5L662.1 190.5L658.4 190.5L656.1 192L654.6 193.3L652.8 193.1L651.6 191.6L650.5 189.7L646.9 189L645.4 189.9L643.4 189.4L641.5 189.7L642.1 186.9L641.7 184.6L640 184.1L639.3 183L639.6 180.3L640.9 179L641.2 177.5L641.9 175.2L641.9 173.6L641.2 172.5L641 171L641.2 168.3L639.6 166.8L645 164L649.6 164.6L654.6 164.6L658.6 165.3L661.8 165L667.7 165.3L669.6 163.1L670.4 155.6L666.6 151.5L663.8 149.6L658 148.3L657.6 145.5L662.5 144.7L668.9 145.8L667.7 141.3L671.2 143L679.7 140.2L680.9 137.2L684.2 136.3L687.2 135.5L689.1 134.6L692.5 129L697.6 127.5L700.7 127.5L701.5 126.7L704.5 126.5L705.2 127.5L707.9 125.6L707.1 124.1L706.7 122L705.2 120L705.2 116.2L705.8 115.1L706.7 114L710.1 113.6L711.6 112.9L714.6 111.7L714.2 113.6L713.3 114.7L713.9 115.9L715.7 116.2L715 117.7L713.9 117.4L711.1 120L712 121.9L712 123.4L715.9 124.3L715.9 125.6L719.7 124.9L721.7 123.7L725.9 125.2L727.7 126.5L730.4 125.4L736.4 123.7L740.9 122.4L744.6 123L745 124.1L748.6 124.1L749.5 122.3L754.7 121.1L753.8 118.1L754 115.1L755.9 112.9L759.2 111.5L762.2 114.4L765.2 114.4L766 111.4L766.4 109.1L765.1 109.6L762.6 108.4L762.2 106.1L767.1 105L771.8 104.6L775.9 105.2L779.8 105L784 103.1L780.1 101.2L773.3 101.6L766.7 102.9L760.6 103.7L758.5 101.6L754.7 100.5L755.5 96.7L753.8 93.4L755.5 91.1L758.9 88.9L767.5 84.7L770.1 84L769.7 82.5L764.5 80.6L758.1 81.7L754.4 84.4L755.1 86.6L749.1 89.6L741.8 92.8L739 98.2L741.6 100.9L745.4 102.7L741.9 107L737.9 108L736.5 114.2L734.5 117.7L730 117.4L727.7 120.4L723.2 120.4L722.1 117L719.1 112.9L716.2 107.4L713.7 105.1L706.4 109.5L701.3 110.3L696.1 108.4L694.7 104.2L693.6 95.7L697 93.4L706.9 90.2L714.2 86.2L721.2 81L730.2 73.9L736.4 70.9L746.9 66.4L755.1 64.5L761.1 64.9L766.7 61.9L773.9 61.9L780.6 61.1L792.2 63.9L787.4 64.9L791.5 67.1L795.2 66L801.6 68.2L811.7 69L826 73.5L829 75L829 77.6L824.8 79.5L818.8 80.6L802 77.6L799.3 78.4L805.3 81L805.7 86.6L810.6 87.7L813.6 88.7L814.3 87L811.7 85.1L814 84L823.3 86.2L826.3 85.1L824.1 82.5L832.7 78.7L836.1 79.1L839.5 80.2L841.7 77.6L838.7 75.4L840.6 73.3L838 70.9L848.3 72.2L850.3 74.2L845.8 74.6L845.8 76.9L848.5 78L854.5 77.2L855.2 75L863.1 73.1L876.2 69.7L879.2 70.1L875.5 72.4L880 72.7L882.6 71.6L889.7 71.2L895.3 69.7L899.5 72L904 69.7L899.8 67.5L901.9 66.2L913 67.5L918.2 68.6L931.7 72.7L934.3 70.9L930.6 69L930.2 67.9L925.7 67.5L927.2 66L925 63L925 61.9L931.7 58.5L934.3 55.1L936.9 54.4L947.1 55.1L947.8 57.4L944.1 60.4L946.7 61.5L947.8 64.1L947.1 69.4L951.2 71.6L949.3 74.2L942.2 79.5L946.3 79.9L947.8 78.7L951.9 77.6L953.1 75.7L956.4 73.9L954.2 72L955.7 69.4L951.6 69L950.8 67.1L953.8 63.4L948.9 60.4L955.7 57.7L954.9 55.1L956.8 54.7L958.7 57L957.2 60.7L961.3 61.1L959.4 58.5L965.8 57L973.7 57L980.4 59.1L977.1 55.9L976.7 52.1L983.3 51.2L992.4 51.4L1000.3 51L997.3 48.7L1001.8 46.5L1005.9 46.5L1013.4 44.6L1023.2 43.9L1024.3 43.1L1034.4 42.7L1037.4 43.5L1045.7 41.6L1052.8 41.6L1053.6 39.7L1057.3 38.2L1066.3 36.7L1072.7 37.9L1067.4 39L1076 39.5L1076.8 41.2L1080.5 40.5L1091.4 40.5L1099.7 42.4L1102.7 43.9L1101.9 45.7L1097.8 46.9L1088 48.7L1085 49.9L1089.5 50.6L1095.2 51.4L1098.5 50.7L1100.4 53.2L1102.3 52.1L1108.3 51.6L1120.3 52.1L1121 54L1136.8 54.5L1137.2 51.7L1145 52.1L1151 52.1L1157 54.4L1158.9 56.6L1156.7 58.2L1161.2 61.1L1167.2 62.6L1170.9 58.9L1176.9 60.4L1183.3 59.2L1190.4 60.7L1193 59.6L1199.4 60L1196.4 56.6L1201.6 55.1L1235.4 57.4L1238.8 59.6L1248.4 62.6L1263.5 61.9L1271 62.2L1274 63.7L1273.6 66.7L1278.1 67.9L1283.4 67.1L1290.1 66.7L1296.9 67.5L1304 67.1L1310.8 70.5L1315.3 69.4L1312.3 66.9L1313.9 65.2L1325.8 66.4L1333.6 66L1344.5 67.9L1349.7 69.5M0 69.5L9.2 72.4L19.1 76.1L18.7 78.4L21.4 79.5L20.2 76.5L30.4 77.2L37.9 80.7L34.1 82.5L28.1 82.9L27.7 86.2L26.4 87.2L22.9 87L20.1 85.9L15.1 84.7L14.2 82.9L10.5 82.5L6 82.9L4.1 81.7L0.4 81L2.2 82.9L0 84.4M859 154.1L862.3 153.3L866.8 151.8L869.8 152.6L873.6 152.2L874.3 154.8L873.6 158.2L870.6 157.8L867.2 158.6L867.2 161.2L863.5 160.8L863.5 162L865.7 163.1L867.2 166.5L871.7 167.6L872.5 169.1L871.3 170.6L871.7 171.3L872.8 174L873.2 171L876.2 170.2L877.3 172.1L880 174.3L877 175.8L875.1 178.1L872.5 178.1L875.1 178.2L874 180.7L877 182L876.2 186L877 188.6L876.6 189.5L871 190.5L865.3 189.7L862.7 187.8L859.3 187.1L858.2 184.5L858.2 182.6L859.3 181.7L860.1 180.3L860.8 177.3L863.8 177L862.7 176.2L860.8 175.8L859 173.2L857.1 171.3L853 166.9L853.3 164.2L850 160.8L853.7 157.1L857.1 156.3ZM663.6 108.4L659.6 112.3L663.4 111.7L667.5 111.7L666.6 114.7L663.3 118.2L667 118.5L670.7 123.4L673.4 123.7L675.6 128.2L676.7 129.7L681.2 130.5L680.9 132.7L678.8 133.8L680.3 135.7L676.9 137.6L671.9 137.6L665.5 138.7L663.8 138L661.4 139.8L658 139.5L655.4 140.7L653.1 139.8L658.8 136.1L662.1 135.3L656.2 134.6L655 133.1L659.1 132L656.9 130.1L657.6 127.5L663.3 127.9L663.8 125.7L661.4 123.4L656.9 122.6L655.8 121.6L657.3 120L655.9 118.9L653.9 120.7L653.9 117L651.8 115.1L653.1 111.4L656.1 108.4L659.1 108.5ZM651.6 126L652.3 128.8L649.4 132.1L642.8 134.3L637.5 133.8L640.5 129.9L638.5 126.1L643.6 123.1L646.5 121.4L649.6 121.2L653.7 123.5ZM620.5 78.9L619.8 81.4L623.9 84L619 86.6L608.1 89.2L604.9 90L600 89.5L589.5 88.3L593.1 86.6L585 84.7L591.6 84L591.6 82.9L583.8 82.1L586.2 79.6L592 79.1L597.6 81.7L603.4 79.5L608.1 80.6L614.1 78.7ZM731.5 29.2L733 28.1L738.6 27.9L743.3 29.2L755.5 32L746.1 33.4L744.2 36.4L740.9 37.1L739 40.1L734.5 40.1L726.6 37.9L730 36.7L724.4 35.6L716.9 32.2L713.9 29.4L724.4 28.1L726.2 29.4ZM760.7 25.6L770.1 26.6L777.6 27.9L772 30L761.1 30.4L750.2 29.7L749.5 28.7L744.2 28.6L740.1 27L751.6 25.9L757 26.8ZM767.5 36.2L759.2 37.7L752.5 36.7L755.1 36L752.9 34.7L760.7 33.9L762.2 35.2ZM868.3 60L875.1 61.1L876.2 62.6L888.2 63.4L890.5 63L883.3 60L882.6 56.6L888.6 53.2L894.2 49.5L905.8 45.7L917.1 44.2L930.6 42.4L933 41.2L930.6 39.7L923.1 40.1L916.7 41.6L904.3 42.2L892 44.6L883.3 46.5L884.5 48.4L875.5 51.6L878.8 52.1L871.3 55.1L871.7 57.4L868 58.1ZM1203.4 188.8L1202 192L1202.8 193.8L1200.7 196.5L1196 198L1189.3 198.3L1184 202.5L1181.4 201.1L1181.4 198.3L1174.7 199.1L1170.5 201L1166 201L1169.7 203.8L1167.2 210.1L1164.9 211.8L1163 210.3L1164 207L1161.5 205.8L1160 203.2L1163.6 202.1L1165.7 199.8L1169.4 197.8L1172 195.3L1179.5 194.2L1183.7 195L1187.4 188.2L1190 190.1L1195.5 186.3L1197.5 184.8L1200 180.3L1199.4 175.8L1200.9 173.6L1205 172.8L1206.9 178.1L1206.9 181.1L1203.4 184.8ZM1176.9 199.1L1179.5 200L1180.3 201.3L1178 203.6L1176.5 202.5L1174.7 203.2L1173.5 205.5L1171.3 204.4L1171.3 202.6L1173.2 200.4L1175.4 200.8ZM1214.4 162.3L1217 163.2L1219.6 161.6L1220.4 165.7L1215 166.9L1211.8 170.6L1205.8 168L1203.8 172.1L1199.6 172.1L1199 168.3L1200.9 165.7L1205 165.3L1206.1 160.1L1207.2 157.3L1211.4 161.2ZM1213.5 137.8L1217.2 144.4L1211.8 143.2L1209.5 148.6L1212.9 152.6L1212.9 155.2L1210.1 152.8L1207.6 155.7L1206.9 152.6L1207.3 148.8L1206.9 144.9L1207.6 142.1L1208 137L1205.8 133.5L1206.1 128.2L1209.5 126.5L1208 124.9L1209.7 124.2L1210.6 126.7L1212 130.3L1211.8 134ZM1131.5 236.6L1129.3 242.6L1127.6 245.7L1125.5 242.6L1125.2 239.7L1127.4 236.2L1130.4 233.2L1132.1 234.3ZM1088.4 258L1085.4 259.8L1082.3 258.7L1082.2 255.4L1083.9 253.8L1088 252.7L1090.3 252.8L1091 254.2L1089.4 255.9ZM981.6 299.9L980.8 303.7L979.3 304.8L976.1 305.7L974.3 302.7L973.7 297.3L975.4 291.3L978 293.3L979.7 296ZM860.5 374.9L861.6 376.4L862.6 378.9L863.1 383.4L864.2 385.1L863.8 386.9L863.1 388L861.8 385.8L861.1 386.9L861.8 389.7L861.5 391.3L860.5 392.2L860.1 395.4L858.7 399.7L856.9 404.9L854.6 412L853.2 417.3L851.5 421.6L848.5 422.5L845.1 424L840 421.8L838.9 419.8L838.7 416.4L837.4 413.5L837 410.8L837.7 408.1L839.5 407.4L839.5 406L841.2 403.3L841.6 400.9L840.7 399.2L840 396.8L839.7 393.3L841 391.2L841.5 388.8L843.4 388.7L845.5 387.9L846.9 387.3L848.5 387.2L850.6 385.1L853.7 382.8L854.8 380.9L854.4 379.3L856 379.7L858 377.2L858.1 374.9L859.3 373.2ZM1213.1 379.7L1214.4 382.6L1216.9 381.2L1218.1 382.8L1219.9 384.2L1219.5 385.9L1220.4 389.2L1220.8 391.1L1221.9 391.4L1222.9 394.7L1222.5 396.6L1223.8 399.2L1227.8 401.1L1230.4 402.9L1233 404.5L1232.4 405.3L1234.6 407.8L1236.1 411.8L1237.6 411L1239.1 412.6L1240 412L1240.6 416L1243.3 418.3L1245 419.8L1248 422.8L1249 425.8L1249.1 427.9L1248.9 430.3L1250.7 433.5L1250.4 436.8L1249.8 438.5L1248.8 441.9L1248.9 444L1248.1 446.7L1246.5 450.1L1243.6 451.9L1242.3 454.9L1241.1 456.7L1239.9 459.9L1238.5 461.8L1237.6 464.6L1237.1 467.2L1237.3 468.4L1235.1 469.7L1230.9 469.8L1227.4 471.4L1225.7 472.8L1223.4 474.4L1220.4 472.7L1218.1 472.1L1218.6 470.2L1216.6 470.9L1213.3 473.6L1210.1 472.6L1207.9 472L1205.8 471.7L1202.2 470.6L1199.7 468.3L1199 465.4L1198.2 462L1196.3 462L1192.7 461.6L1194 459.8L1193 457L1191.2 459.6L1187.9 460.3L1189.8 458.2L1190.4 456L1191.9 454.2L1191.6 451.4L1188.5 454.6L1186.2 455.9L1184.7 458.9L1181.8 457.3L1181.9 455.4L1179.6 452.6L1177.6 451.2L1178.3 450.4L1173.5 448.1L1170.9 448L1167.3 446.2L1160.6 446.5L1155.7 448.9L1151.4 449.1L1147.8 448.9L1143.9 450.8L1140.6 451.6L1139.9 453.6L1138.5 455.1L1135.3 455.2L1133 455.5L1129.7 454.9L1127 455.3L1124.4 455.5L1122.2 457.5L1121.1 457.3L1119.2 458.4L1117.4 459.5L1114.7 459.4L1112.2 459.4L1108.1 457L1106.2 456.3L1106.2 454.1L1108.1 453.6L1108.7 452.8L1108.6 451.4L1109 448.8L1108.6 446.6L1106.6 442.8L1106 440.7L1106.2 438.5L1104.7 436.1L1104.6 435L1102.9 433.5L1102.5 430.5L1100.3 427.6L1099.8 426L1101.5 427.6L1100.2 424.1L1102.1 425.2L1103.2 426.7L1103.1 424.8L1101.2 421.8L1100.9 420.6L1100 419.5L1100.4 417.3L1101.2 416.4L1101.7 414.5L1101.3 412.3L1102.9 409.6L1103.2 412.5L1104.7 409.9L1107.8 408.7L1109.6 407.1L1112.5 405.7L1114.2 405.4L1115.2 405.9L1118.2 404.4L1120.4 404L1121 403.2L1122 402.9L1124 403L1128 401.8L1130 400.2L1131 398.2L1133.2 396.3L1133.4 394.8L1133.4 392.7L1136.1 389.6L1137.6 392.8L1139.3 392.1L1137.9 390.3L1139.1 388.5L1140.8 389.3L1141.2 386.4L1143.3 384.6L1144.2 383.1L1146 382.5L1146.1 381.4L1147.8 381.9L1147.8 380.9L1149.5 380.4L1151.3 379.9L1154 381.6L1156.1 383.8L1158.5 383.9L1160.9 384.2L1160.1 382.1L1161.9 379.1L1163.6 378.2L1163 377.2L1164.6 375.1L1166.9 373.7L1168.8 374.2L1172 373.5L1171.9 371.6L1169.1 370.3L1171.1 369.8L1173.6 370.7L1175.6 372.3L1178.7 373.2L1179.8 372.8L1182.2 374L1184.3 372.9L1185.8 373.2L1186.6 372.5L1188.3 374.4L1187.4 376.4L1185.9 377.9L1184.6 378L1185.1 379.5L1184 381.4L1182.6 383.3L1182.9 384.3L1185.9 386.4L1188.8 387.6L1190.7 388.9L1193.4 391.1L1194.5 391.1L1196.4 392L1197 393.2L1200.6 394.5L1203.1 393.2L1203.8 391.2L1204.5 389.5L1205 387.5L1206.1 384.5L1205.6 382.7L1205.9 381.6L1205.5 379.4L1206 376.6L1206.7 375.8L1206.1 374.6L1207 372.6L1207.7 370.5L1207.8 369.5L1209.2 368.1L1210.3 369.9L1210.5 372.2L1211.5 372.7L1211.6 374.3L1213 376.2L1213.3 378.3ZM1220 481L1223.6 482.3L1225.7 481.8L1228.6 481.1L1230.9 481.3L1231.1 485.8L1229.8 487.1L1229.4 490.1L1228.1 489.1L1225.5 491.6L1224.7 491.5L1222.5 491.3L1220.1 488.1L1219.6 485.6L1217.5 482.4L1217.5 480.7ZM1338.1 478.3L1336.7 480.3L1334.8 482.9L1331.9 484.4L1331.3 483.4L1329.7 482.8L1331.9 479.8L1330.6 477.7L1326.6 476.2L1326.7 474.8L1329.4 473.5L1330 470.6L1329.9 468.2L1328.3 465.7L1328.5 465L1326.7 463.5L1323.7 460.2L1322.2 457.5L1323.5 457.2L1325.6 459.3L1328.5 460.3L1329.5 463.6L1332.3 467.6L1332.3 465L1334 466L1334.6 468.9L1337.6 470.1L1340.1 470.4L1342.3 469L1344.2 469.4L1343.3 472.7L1342.1 474.9L1339.3 474.8L1338.3 476L1338.6 477.6ZM1311 491.4L1314.2 489.4L1316.5 487.4L1318.1 484.7L1319.6 483.7L1320.1 481.6L1322.8 479.9L1323.6 481.5L1324.4 483L1327.1 481.5L1328.2 483.1L1328.2 484.7L1326.8 486.4L1324.3 489.2L1322.4 490.7L1323.8 492.5L1320.9 492.5L1317.7 493.9L1316.7 496.4L1314.6 500.2L1311.6 501.9L1309.7 502.9L1306.3 502.9L1303.9 501.6L1299.8 501.4L1299.2 500L1301.2 497.2L1305.9 493.5L1308.3 492.8ZM1177.8 332.4L1178.9 338.4L1182.8 340.7L1185.9 336.7L1190.2 334.4L1193.5 334.4L1196.7 335.7L1199.5 337.1L1203.5 337.8L1210 340.4L1216.9 342.5L1219.5 344.4L1221.6 346.4L1222.2 348.6L1228.5 350.9L1229.4 352.8L1225.9 353.3L1226.7 355.8L1230.1 358.2L1232.5 362.2L1234.7 362.1L1234.5 363.7L1237.4 364.4L1236.3 365.1L1240.3 366.6L1239.9 367.7L1237.4 368L1236.4 367L1233.2 366.6L1229.4 366L1226.5 363.6L1224.4 361.6L1222.5 358.3L1217.5 356.7L1214.4 357.8L1212.1 359L1212.6 361.7L1209.6 363L1207.5 362.4L1203.6 362.3L1200.3 359.2L1196.5 358.4L1195.6 359.5L1190.8 359.6L1192.4 356.6L1194.8 355.5L1193.8 351.4L1192 348.3L1184.7 345.1L1181.6 344.8L1176 341.3L1174.9 343.1L1173.5 343.5L1172.6 342.1L1172.6 340.5L1169.7 338.6L1173.8 337.3L1176.5 337.4L1176.2 336.3L1170.6 336.3L1169.2 334.1L1165.8 333.4L1164.2 331.6L1169.3 330.7L1171.2 329.5L1177.2 331ZM1116.8 312.5L1114.7 316L1117.5 319.5L1116.8 321.2L1121 324.7L1116.6 325.1L1115.3 327.7L1115.5 331.1L1111.9 333.6L1111.8 337.4L1110.4 343.1L1109.8 341.8L1105.5 343.5L1104.1 341.2L1101.4 341L1099.5 339.8L1095.1 341.1L1093.7 339.3L1091.2 339.5L1088.1 339L1087.6 334L1085.7 333L1083.9 329.8L1083.4 326.5L1083.8 323L1086 320.5L1088.8 321.8L1091.7 321.1L1092.4 317.9L1094 317.2L1098.5 316.4L1101.2 313.5L1103 311.1L1104.5 309.7L1107.7 307.6L1110.6 305L1112.5 302.1L1114 302.1L1115.9 304L1116.1 305.6L1118.6 306.7L1121.7 307.8L1121.5 309.2L1118.9 309.4L1119.6 311.3ZM1032.1 307.5L1040.4 308.4L1043.7 312.1L1046.6 314.6L1048.6 316.2L1052.2 320.2L1056 320.3L1059.2 322.8L1061.4 326L1064.2 327.7L1062.7 330.7L1064.8 332L1066.2 332.1L1066.8 334.7L1068.1 336.8L1070.9 337.2L1072.7 339.5L1071.8 344.2L1071.6 350L1067.5 350.1L1064.3 347L1059.5 343.9L1057.9 341.6L1055.1 338.6L1053.2 335.7L1050.3 330.5L1047 327.4L1045.9 324.2L1044.6 321.2L1041.2 318.9L1039.2 315.7L1036.4 313.6L1032.5 309.4ZM1069.9 353.7L1072.5 350.2L1077.1 350.4L1080.1 351.9L1081.6 352.1L1082.1 353.5L1089.3 353.9L1090.1 352.3L1097.1 354.1L1098.5 356.5L1104.1 357.2L1108.7 359.4L1104.4 360.9L1100.3 359.4L1096.9 359.5L1093 359.2L1089.5 358.5L1085.2 357.1L1082.4 356.7L1080.8 357.2L1074 355.6L1073.3 354ZM1144.4 322.7L1141.4 326.5L1138.6 327.2L1135 326.5L1128.8 326.6L1125.5 327.2L1124.9 330L1128.3 333.3L1130.3 331.7L1137.3 330.4L1137 332.1L1135.4 331.6L1133.7 333.8L1130.5 335.2L1134 340L1133.3 341.3L1136.7 345.6L1136.6 348.1L1134.6 349.2L1133.2 347.9L1135 344.8L1131.3 346.2L1130.4 345.2L1130.9 343.8L1128.2 341.6L1128.4 337.9L1126 339L1126.3 343.4L1126.4 348.8L1124 349.3L1122.4 348.2L1123.5 344.8L1122.9 341.1L1121.3 341.1L1120.2 338.6L1121.7 336.1L1122.2 333.1L1124.2 327.5L1124.9 325.9L1128.1 323.2L1131.1 324.3L1135.8 324.8L1140.1 324.6L1143.8 321.9ZM1129.7 258.7L1132.1 259.8L1133.2 258.8L1133.6 259.8L1132.9 261.3L1134.2 264L1133.2 267.1L1131 268.3L1130.5 271.4L1131.3 274.3L1133.3 274.7L1134.9 274.3L1139.6 276.4L1139.3 278.4L1140.5 279.3L1140.1 281L1137.2 279.2L1135.8 277.3L1134.8 278.6L1132.4 276.4L1129 276.9L1127.2 276.1L1127.3 274.6L1128.5 273.6L1127.4 272.7L1126.9 274.1L1125.1 271.9L1124.5 270.3L1124.3 266.7L1125.9 268L1126.3 262.1L1127.5 258.7ZM1148.7 296.5L1149.1 299L1149.3 301.1L1148 304.6L1146.6 300.7L1144.9 302.6L1146.1 305.4L1145 307.1L1140.6 305L1139.6 302.2L1140.7 300.5L1138.3 298.7L1137.2 300.2L1135.4 300.1L1132.6 302.2L1132 301.1L1133.4 298L1135.8 296.9L1137.9 295.5L1139.2 297.2L1142 296.2L1142.6 294.5L1145.3 294.4L1145.1 291.5L1148.1 293.2L1148.4 295.1ZM1123 285.4L1123.6 288.5L1121.2 290.6L1119.2 293.1L1114.2 296.7L1116 294.1L1118.8 291.8L1121 289.1ZM1140.8 281L1144.4 281L1145.4 282.5L1146.5 286.6L1143.6 285.7L1143.6 286.9L1144.6 289.2L1142.8 290.1L1142.6 287.4L1141.5 287.2L1140.9 284.9L1143.1 285.2L1143.1 283.9ZM1131.8 283.5L1134.1 284.6L1136.5 284.6L1136.4 286.2L1134.7 287.8L1132.3 288.9L1132.2 287.2L1132.4 285.2ZM1133.8 291.7L1134.5 290.6L1135.4 289.6L1135.8 287.3L1137.9 287L1137.3 289.6L1137.2 293.2L1135.3 293.9ZM1126 277.6L1129.2 277.7L1130.5 279.1L1129.5 282.3L1127.9 280.4ZM1137.9 366.7L1141.3 366.1L1143.9 363.3L1147.3 362.2L1151 360.6L1152.3 359.6L1150.9 359.1L1147 359.7L1143.5 361.4L1139.8 362.9L1138.1 365.2ZM1135.7 358.4L1135.1 360.5L1129.5 361.5L1124.5 361.1L1124.5 359.7L1127.5 359L1129.8 360.1L1132.3 359.8ZM1116.9 358.4L1118.3 359.4L1120.6 359.1L1121.5 360.7L1117.2 361.5L1114.6 362L1112.6 361.9L1113.8 359.8L1115.9 359.7ZM1127.5 366.5L1125.9 366.5L1120.9 363.9L1124.4 363.2L1126.4 364.3L1127.7 365.4ZM1157.4 323.8L1157.2 327.1L1155.2 326.7L1154.7 329L1156.2 331L1155.2 331.4L1153.7 329.1L1152.5 324.3L1153.3 321.3L1154.5 319.9L1154.8 322L1157 322.3ZM1164 339.6L1165.4 342.5L1162.2 341L1159.1 340.7L1157 340.9L1154.4 340.8L1155.3 338.7L1159.9 338.6ZM1150.5 342.3L1148 341.6L1147.2 340L1151 339.8L1152 341ZM1244.7 348.6L1242.7 348.9L1242.1 350L1240.1 350.9L1238.2 351.8L1236.2 351.8L1233.1 350.7L1231 349.6L1231.3 348.5L1234.6 349L1236.7 348.7L1237.3 346.9L1237.8 346.8L1238.2 348.8L1240.3 348.5L1241.4 347.2L1243.5 345.9L1243 343.7L1245.3 343.6L1246 344.2L1246 346.3ZM1249 344.9L1247.9 345.9L1247.2 343.7L1246.3 342.3L1244.6 341L1242.4 339.5L1239.7 338.3L1240.8 337.4L1242.8 338.5L1244.1 339.3L1245.7 340.2L1247.2 341.8L1248.6 343ZM1255.1 348.1L1256.2 348.9L1258.1 351.3L1259.8 352.6L1259.3 353.6L1258.3 354L1256.7 352.6L1255 350.2L1254.2 347.3L1254.7 347ZM1261.8 352.8L1264 354.4L1265.5 355.6L1264.8 355.8L1263.1 355L1261.6 353.4ZM1268.6 355.5L1270.3 356.4L1273.4 358.1L1274.3 359.3L1274.5 360.1L1271.5 358.5L1269.5 357.1L1268 355.9ZM1273.4 362.7L1273.6 362.7L1276.1 363.3L1277.3 364.1L1277.9 365.1L1276.5 365.2L1274.2 364.8ZM1276.9 359.3L1278.2 359.3L1279.6 362.3L1281.1 364.1L1280.5 364.7L1277.7 361.5ZM1282 367.2L1282.7 367.4L1283.8 368.7L1281.1 368.6L1279.7 366.3ZM1299.6 382.9L1301.4 384L1302 387.1L1301 386.6L1300.2 386.8L1299.7 385.8ZM1301.8 387.6L1304.2 389.8L1303 390.3L1301.7 388.7ZM1296.4 407.1L1299.5 409.4L1301.5 411.1L1300 412L1298 411L1295.3 409.3L1292.9 407.4L1290.4 404.7L1289.9 403.4L1291.5 403.5L1293.6 404.8L1295.2 406ZM366.4 241.1L369.7 241.4L372.6 241.4L376.1 242.7L377.6 244.1L381.1 243.7L382.5 244.5L385.6 246.9L388 248.5L389.2 248.5L391.4 249.3L391.2 250.3L393.9 250.5L396.8 252L396.3 252.9L393.8 253.4L391.3 253.6L388.7 253.3L383.3 253.6L385.8 251.5L384.3 250.6L381.9 250.3L380.6 249.2L379.7 247.1L377.6 247.2L374.1 246.2L373 245.4L368.1 244.9L366.8 244.1L368.2 243.2L364.5 243L361.8 244.9L360.3 245L359.7 245.9L357.9 246.3L356.3 246L358.2 244.8L359.1 243.4L360.8 242.6L362.7 241.9L365.5 241.5ZM406 254.2L406.5 253.5L409.4 253.5L411.6 254.5L412.6 254.4L413.3 255.7L415.3 255.7L415.2 256.8L416.9 256.9L418.7 258.3L417.3 259.8L415.6 259L413.8 259.2L412.6 259L411.9 259.6L410.5 259.9L409.9 259L408.7 259.5L407.2 262.1L406.2 261.5L406 260.4L403.5 259.8L401.8 260L399.5 259.8L397.7 260.5L395.7 259.3L396 258.1L399.5 258.6L402.3 258.9L403.7 258.1L402 256.5L402 255L399.6 254.4L400.5 253.4L402.7 253.6ZM384 258.7L386.6 259.1L388.5 260L389.2 261L386.6 261.1L385.4 261.7L383.3 261.1L381.2 259.7L381.6 258.9L383.2 258.6ZM426.4 258.7L428.3 259L429 259.7L428 260.7L425.2 260.7L423 260.8L422.8 259.2L423.3 258.6ZM443.6 287.7L445.8 287.2L446.5 287.3L446.4 290.2L443.3 290.6L442.6 290.2L443.7 289.2ZM381.7 233.5L382.8 233.7L384.2 236.8L384.2 239L383.3 239.2L382.3 237L380.9 235.9ZM383.1 228.4L379 229L378.8 227.6L380.5 227.3L383 227.4ZM386.2 228.4L385.5 231L384.8 230.5L384.9 228.6L383.2 227.1L383.2 226.7ZM91.7 256.5L91.1 257.1L90.2 256.6L90.3 255.6L89.7 254.2L89.9 253.8L90.5 253.2L90.3 252.4L90.5 252.1L90.8 252.1L92.2 252.8L92.9 253.1L93.5 253.6L94.4 254.9L94.4 255.1L92.9 255.9ZM89.7 250.7L88.4 250.9L87.8 250.2L87.4 249.9L87.3 249.6L87.7 249.3L89 249.6L90 250.2ZM83.8 248.1L83.6 248.4L83.3 248.3L82 248.2L81.5 247.3L81.4 247.2L82.4 246.6L82.7 246.9ZM77.4 245.7L77 246L75.7 245.3L75.9 245.1L76.5 244.7L77.3 244.8ZM87.1 248.7L87 249.1L85 249L85.3 248.5ZM464.4 138L461.9 141.3L464.4 140L466.9 140.8L465.6 142.1L468.9 143.2L470.6 142.2L474.4 143.4L473.2 146.1L475.8 145.5L476.3 147.5L477.5 149.8L475.9 153.1L474.2 153.3L471.7 152.6L472.6 149.5L471.5 149L467.2 152.3L464.9 152.1L467.6 150.4L464 149.5L459.9 149.7L452.7 149.6L452.1 148.5L454.4 147.2L452.8 146.1L456 143.9L459.8 137.9L462.1 135.8L465.4 134.5L467.1 134.6L466.4 135.6ZM433 141.1L434.3 140.7L439.2 141.7L443 143.3L443.1 143.9L441.3 144L436.5 142.8ZM434.9 151.7L436.2 153.5L438.9 154L442.4 153.9L440.5 155.5L439.2 155.7L434.4 154.1L433.5 152.9ZM211.8 146.2L209.9 146.7L203.7 145L202.6 143.7L199.3 142.4L198.6 141.3L194.7 140.6L193.3 138.6L193.6 137.7L197.6 138.5L199.8 139.1L203.4 139.5L204.6 140.8L206.5 142.5L210.3 144.1ZM177.3 125.5L180.9 125.2L179.8 129.4L183 132.4L181.5 132.4L179.3 130.7L177.9 129L176 127.8L175.3 126.2L175.5 125ZM101.2 113.9L97.4 115.4L95.5 114.4L95 112.6L98.4 111.3L100.4 110.7L102.9 111L104.5 112.1ZM31 88.9L33.3 89.6L35.7 89.3L38.7 90.2L42.4 90.7L42.1 91.1L39.3 91.9L36.4 91.1L35 90.4L31.7 90.7L30.8 90.3ZM50.7 101.7L53.7 102L54.1 103.4L51.8 104L49.3 103.3L47 102.3ZM339.3 62.8L343.2 61L337.8 61L336.7 57.2L339.5 53.9L343.4 52.3L353.1 51.4L350.3 53.8L353.3 56.1L356.7 53.1L366.2 51.6L372.7 55.4L372.1 57.9L379.5 56.8L383.1 55.3L391.4 57.2L396.6 59L397.1 60.6L404 59.8L407.9 62.2L417 63.6L420.3 65.2L423.8 68.6L416.9 70.4L425.7 72.8L431.7 73.7L437.1 77.1L443 77.4L441.8 80L435.2 84.4L430.6 82.7L424.7 79.1L419.8 79.6L419.4 81.8L423.3 83.9L428.4 85.7L430 86.7L432.4 90.4L431.1 93.1L426.4 92L417 89L422.3 92.3L426.2 94.6L426.8 95.9L416.6 94.4L408.6 92.2L404 90.4L405.3 89.3L399.7 87.4L394.3 85.6L394.4 86.6L383.5 87.2L380.3 86L382.8 83.2L389.9 83.1L397.6 82.7L396.3 81.3L397.7 79.4L402.5 75.8L401.4 74.1L400 72.8L394.3 71L386.7 69.8L389.1 68.8L385.1 66.5L381.8 66.3L378.8 65L376.8 66.1L370 66.6L356.4 65.7L348.5 64.6L342.4 64.1ZM733.1 184.7L731.7 187.7L732.3 188.9L731.5 190.8L728.6 189.4L726.7 189L721.5 187.1L722 185.1L726.4 185.5L730.2 185.1ZM709.4 173.6L711.7 176.2L711.1 181.2L709.4 180.9L707.9 182.2L706.5 181.2L706.3 176.7L705.5 174.5L707.5 174.7ZM710.7 170L709.5 172.9L707.8 172.2L706.9 169.6L707.7 168.2L710.1 166.8ZM763.7 194.2L765.8 195.5L768.7 195.3L771.5 195.5L771.4 196.2L773.4 195.7L773 196.8L767.6 197.1L767.6 196.5L763 195.8ZM797.6 196.3L798.3 196.5L799.3 196.2L800 196.2L800.3 196.8L800.4 196.8L800.6 196.7L801.1 196.8L801.9 196.5L802.2 196.6L802.3 196.9L798.5 198.5L796.7 198L795.8 196.5L797.9 196.3L798.4 195.4L801.1 195.5L804.5 194.3L802 195.9ZM417.6 525.4L419 527.2L420.9 530L425.7 532.2L431 533.1L429.3 535L425.7 535.2L423.8 533.9L421.6 533.8L417.6 533.8L415.3 536.1L412.6 535L408.6 534.5L403.9 532.4L400.1 530.4L395 526.2L398 527L403.3 529.5L408.3 530.8L410.2 529.1L411.4 526.5L414.9 525ZM445.4 522.5L449.9 520.2L453.1 521.2L455.4 519.7L458.4 521.3L457.2 522.7L452.2 523.8L450.5 522.5L447.3 524.2ZM933.3 510.4L935.7 511.6L939.3 512L939.4 512.8L938.4 514.4L932.6 514.7L932.5 512.7L933.1 511.1ZM443 18.3L442.8 19.3L433.7 20.9L424.6 21.6L421.2 22.5L429.4 22.5L420.5 24.7L414.4 25.8L408 28.9L400.3 29.5L397.9 30.3L386.5 30.7L391.7 31.1L389.1 31.8L392.2 33.6L388.7 34.9L382.8 36L381.1 37.5L375.8 38.6L376.4 39.4L382.8 39.3L382.8 40.2L372.8 42.4L363 41.4L352 42L346.4 41.5L339.3 41.4L338.9 39.6L345.8 38.7L344 36L346.2 35.7L356.3 37.3L351.2 34.9L345.1 34.2L348.1 32.8L354.8 31.9L355.8 30.6L350.5 29.1L348.9 27.2L359.2 27.3L362.1 27.7L368 26.4L359.6 25.9L346.4 26.2L339.8 24.9L336.7 23.4L332.3 22.3L331.5 21L337.1 20.3L341.4 20.2L348.8 19.6L354.3 18.2L359 18.4L363 19.4L365.9 17.4L370.8 16.8L377.5 16.4L389 16.2L391 16.6L401.8 16L409.9 16.2L418 16.5L428.1 16.8L436.1 17.2ZM367.6 49L362.8 48.5L352.1 49.1L344.4 49.2L338.3 48.7L328.4 47.5L327.1 45.4L326.6 43.6L322.9 41.9L315.1 41.5L310.7 40.3L312.1 38.8L319.9 39L324.1 40.2L331.4 40.2L334.7 41.4L333.8 42.9L338.1 43.7L340.5 44.6L345.5 44.7L351 45.1L357 44.2L364.6 43.9L370.7 44.2L374.7 45.6L375.6 47.2L373.2 48.1ZM275.5 54.1L279.7 55.6L282.1 59.2L283.2 61.9L289.5 63.7L296.3 65.5L295.9 67.2L289.7 67.5L292.1 68.9L290.8 70.3L284 69.7L277.6 68.7L273.2 68.9L266.2 70.2L256.7 70.7L250 71.1L248 69.3L242.9 68.3L239.5 68.7L234.9 65.8L237.4 65.4L243.2 64.7L248.5 64.9L253.4 64.2L246.1 63.4L238.1 63.7L232.8 63.6L230.8 62.2L239.5 60.7L233.7 60.7L227.2 59.8L230.4 57L232.9 55.5L243 53.2L246.8 53.9L244.9 55.7L253.3 54.5L258.5 56.4L262.8 54.5L266.2 55.8L269.2 59.4L271.1 57.9L268.4 54L271.7 53.5ZM202.7 58.6L204.3 57L206.9 54.3L210.2 51.8L206.5 49.5L219.2 48.9L224.5 49.7L234.1 49.9L237.8 51L241.8 52.6L237.1 53.5L227.9 56.2L223.2 58.8L223.2 60.4L213.4 62.2L211.4 60.6ZM269.2 42.4L270.6 43.7L274 43.1L277.9 43.2L278.6 45.1L276.3 46.8L263.6 47.4L254.1 49L248.4 49.2L247.9 47.9L255.7 46.3L238.8 46.7L233.5 46L238.6 42.4L242.2 41.3L252.7 42.6L259.4 44.8L265.9 45.1L260.6 41.5L264 40.2L267.9 40.6ZM298.6 51.2L303.1 52L309.8 51.5L310.7 52.6L307.3 54.4L312.9 56L312.2 59.4L306.1 60.9L302.5 60.5L299.9 59.1L290.6 56.2L290.6 55L298.3 55.5L294.2 53ZM325.4 55.2L321.4 58L317.2 57.9L314.8 54.6L314.9 52.7L316.8 51.1L320.6 50.1L328.4 50.2L335.5 51.1L329.9 54.5ZM305.6 40.4L308.4 42.1L308.6 44.1L306.8 46.9L300.7 47.2L296.6 46.6L296.7 44.5L290.6 44.8L290.3 41.8L294.4 42L300 40.7L305.3 40.9ZM323.9 46.9L321.8 48.4L316.4 48.1L311.9 47.1L313.9 45.4L319.3 44.4L322.5 45.7ZM348.6 29.4L353.1 30.6L348 31.7L341 34.5L334.4 34.8L326.6 34.3L322.6 32.8L322.7 31.5L325.6 30.4L318.8 30.5L314.6 29.2L312.3 27.5L314.9 25.9L317.5 24.7L321.3 24.4L319.7 23.6L328.4 23.4L333.2 25.4L339.5 26.2L345.6 26.9ZM299.7 34.4L301.2 36L295.1 35.5L288.9 34.3L280.5 34.2L284.2 33.1L279.6 32.2L279.4 30.7L286.7 31.2L296.8 32.6ZM320.9 36.3L323.5 37L323 37.4L321.3 37.5L314.3 37.3L313.3 36.3ZM239.2 36.9L238.7 39.8L235.8 41.1L232.3 41.3L225.3 42.9L219.3 43.5L214.3 42.7L220.6 39.9L228.3 37.5L234.1 37.5ZM261.7 36.7L254.8 37.8L249.2 36.6L252.3 35.4L257.7 35.1L263 35.6ZM314 67.5L316.3 68.9L313.9 70.3L308.9 69.1L305.8 69.5L300.7 67.9L304 66.7L306.6 65.1L310.6 66.1L312.8 66.8ZM355.6 81.9L356.3 83.5L358.2 83L360.4 83.9L364.5 85.2L368.8 86.4L369.1 88.2L371.9 87.9L374.6 89.1L371.2 90.3L365.4 89.4L363.3 87.7L359.6 89.7L354.2 91.7L352.9 89.5L347.9 89.8L351.1 88L351.6 85L352.9 81.6ZM363.4 95L360.8 94.9L360 93.9L362.7 92.2L367.9 92.2L367.8 92.9ZM375.2 94.1L376.7 94.3L377.7 95L376.2 97L374.6 96.7L373.6 95.5ZM390.4 76.3L386.2 76.5L385.3 74.6L386.9 72.5L390.3 72L393.3 73.1L393.3 74.7ZM375.8 55.1L371.6 53.1L371.8 51.8L373.6 51.5L382.2 51.9L388.7 54L389 55L385 54.9L381 54.8L376.8 55.3ZM1049.6 32.3L1041.4 32.8L1030.9 31.7L1024.7 30.3L1021.9 27.6L1016.7 26.8L1026.5 24.3L1034.6 23.4L1041.9 25.3L1050.5 28.9ZM1060.5 30.8L1069.9 33L1068.8 34.5L1047.7 35.9L1054.5 31L1057.6 30.6ZM1195.4 42.6L1205.3 42.8L1218.9 44.8L1215.9 47.5L1202.1 47.4L1195.9 48.3L1188.4 45.9L1190.4 43.3ZM1230.6 45.6L1240 46.6L1235.7 48L1229.7 47.7L1222.7 46.2L1223.6 45ZM1199.2 53L1202.8 51.5L1207.5 51.1L1212.8 52.6L1213.3 53.6L1207.6 53.6L1199.9 53.2ZM862.5 24.7L868 25.5L866.6 26.1L861.6 26.5L858.2 26.8L857.7 27.4L853.3 28.1L849.2 27.2L851.4 26L843 25.9L850.3 25.2L856 25.2L856.8 26.2L859 25.3ZM1177.7 348.3L1179.9 349.4L1179.9 352.4L1178 353.9L1177.3 350.9ZM0 59.9L0.5 59.8L3.7 59.8L9.1 60.9L8.8 61.4L4.9 62.3L0 62.5M-1.8 643.6L18.2 645L41.6 645L68.3 647L101.7 647.6L138.4 646L105 643.6L100 637.6L101.7 632.6L86.6 631.6L105 629.3L123.4 628.3L118.4 624.3L91.7 622.6L80 617.6L101.7 616.9L125 612.6L128.4 609.9L158.4 607.6L178.5 605.9L198.5 604.2L225.2 602.6L241.9 605.9L258.6 608.2L275.3 607.6L292 609.2L297 606.9L285.3 602.6L287 599.2L312 598.2L305.3 600.9L325.4 601.9L338.7 599.9L352.1 601.6L368.8 603.6L371.5 602L381.5 604.3L394.9 604.3L408.2 602L419.9 598.3L423.3 592.6L423.3 585L428.3 577.6L438.3 570.9L451.6 566.9L460 566.3L451.6 569.9L440 574.3L431.6 579.3L433.3 586L441.6 591L446.6 599.3L445 606L433.3 610.3L411.6 614.3L394.9 616L384.9 616L381.5 621L384.9 625L401.6 628.4L424.9 631.7L445 636L456.6 639.4L471.7 637L495 635L515.1 634.4L535.1 631.7L555.1 630.4L566.8 628.4L561.8 624.3L541.8 624.3L540.1 621L548.5 619.3L568.5 616L591.9 612.7L610.2 607.7L615.2 602.6L628.6 597.6L638.6 595L645.3 596.3L652 593.6L662 595L673.7 596.3L682 593.6L702 590.3L712 592.6L722.1 590.3L728.7 591.6L738.8 589.3L758.8 591.6L772.1 590.3L791.5 588.3L794.9 587.5L801.5 584.2L809.9 587.5L819.9 589.2L828.3 584.9L848.3 580.9L861.6 578.2L871.7 574.9L880 574.2L886.7 575.9L891.7 579.2L906.7 582.5L915.1 580.2L928.4 581.5L935.1 584.2L933.4 590.2L928.4 592.6L930.1 597.6L940.1 597.6L951.8 589.9L965.1 588.2L971.8 584.2L985.2 579.2L1000.2 579.2L1004.2 576.5L1010.2 579.9L1028.6 579.2L1038.6 580.2L1048.6 579.2L1060.3 573.2L1072 578.2L1082 578.5L1098.7 574.2L1112 578.2L1125.4 580.2L1138.7 576.9L1155.4 577.5L1177.1 575.9L1181.1 572.5L1185.5 577.5L1201.5 578.2L1218.1 578L1223.7 581.8L1247.4 585.9L1253 584.7L1260.9 587.9L1271 589L1281.2 592.6L1299.2 593.1L1310.4 594.2L1317.2 597.6L1308.2 603.9L1298 605.4L1289 611.1L1286.8 616L1291.3 620.1L1300.3 622.8L1290.2 623.5L1280 624.6L1273.3 630.9L1283.4 636.3L1296.9 639.9L1310.4 642.1L1323.9 644.2L1332.9 643.3M471.7 629.4L481.7 622.7L495 619.3L508.4 621L512.4 626L508.4 629.4L491.7 631L475 631.7ZM62.3 622.9L70 621.9L76.6 624.3L75 626.6L67.6 627.3L61.6 625.3ZM428.3 627L450 625L451 629.7L441.6 631.7L428.3 631.7ZM393.2 595L398.2 591L404.9 592.6L408.2 587L412.2 587.6L414.9 595L408.2 598.3L398.2 599.3Z" fill="none" stroke="#000" stroke-width="4.1" stroke-linejoin="round" stroke-linecap="round"/>
</defs>
<g transform="translate(78.5,132.5)">
<g clip-path="url(#ax)">
<rect x="-1" y="-1" width="1333" height="658" fill="#0000a4"/>
<path d="M-4 -4l1340 0l0 493.9l-6.1 -1.9l-10.6 -2l-97.3 -14.5l-28 -3.2l-30 -1.5l-40 -0.1l-38 1.7l-64 5.6l-62 6.9l-26 4.2l-33.7 6.9l-30.3 7.1l-8 2.7l-4.8 2.2l-3.3 2l-11.9 9.9l-8 10.9l-3.5 7.2l-2.1 8l-1.1 6l-0.5 8l0.2 16l0.6 8l-0.3 8l1.9 10l1.5 4l3.3 3.7l4 2.7l8 3l10 2.4l20 3.2l29.6 3l32.4 2.5l34 1.6l98 2.8l152 1.6l96 2.8l18 -0.3l0 29l-1340 0l0 -32.9l6 0.4l10 -0.5l18 -1.2l12.8 -1.8l6 -2l6.7 -4l1.6 -2l1 -4l-0.8 -4l-2 -4l-3.3 -3.7l-18 -16.5l-5.7 -7.8l-2.3 -6l-0.2 -2l0.6 -4l2.8 -6l2.8 -4.2l10 -11.5l3.3 -6.3l0.5 -4l-0.3 -4l-1.5 -5.2l-2 -4.5l-2 -2.9l-3.5 -3.4l-8.5 -5.8l-8 -3.7l-18 -5.5l-6 -4ZM1086 53.9l-17.4 2.1l-32.6 5.8l-5.6 2.2l-2.9 2l-1.4 2l0 2l1 2l4.6 4l7.8 4l13 4l23.6 6l91.9 17.3l70 9.5l20 2.2l12 0.6l16 -0.5l11.1 -1.1l8.3 -2l4.2 -2l3.9 -4l1.6 -4l0.2 -2l-0.6 -4l-2.1 -4l-4.6 -4.7l-8.2 -5.3l-12.8 -6l-15.2 -6l-17.8 -5.7l-17 -4.3l-39 -7.3l-18 -2.5l-14 -1.2l-34 -0.6Z" fill="#0000ed" fill-rule="evenodd"/>
<path d="M-4 -4l1340 0l0 42.7l-72 -13.6l-16 -2.5l-14 -1.5l-92 -6.4l-60 -1.4l-32 0.1l-26 1.2l-48 4l-20 2.5l-18 3.4l-19.1 5.5l-10.1 4l-6.8 3.4l-4.1 2.6l-4.2 4l-1.7 3.4l-0.2 2.6l1.7 6l3.7 6l4.9 6l8.7 8l15.1 12l8.7 6l9.4 5.4l14 5.8l34 9.1l30 5l18 3.6l22 9.8l16 5.9l24 6.5l24 5.3l16 2.5l16 1.2l64 -1.3l32.5 1.2l31.5 2.2l12 1.9l12.7 3.9l25.3 13.1l0 118l-40 -2.3l-14 -0.2l-14 1.5l-16 4.1l-9.4 3.8l-6.6 3.5l-8 5.5l-6 5.4l-4.7 5.6l-3.3 6l-1.7 6l-0.6 6l1 6l3.3 7.1l5 6.9l7 7.4l10 8.6l31.4 24l18.6 15l10 6.5l6 1.5l4 -0.9l16 -10.9l6 -2.9l6 -1.9l0 32.4l-4 1.8l-4 0.7l-18 -1.4l-4 0.5l-8 2.1l-10 0.6l-84 -6l-14 -0.1l-20 1.1l-22 -0.6l-16 1l-80 7.1l-52 1.4l-42 5.5l-18 1.7l-30 0.2l-54 -3.6l-6 0l-10 1.3l-13.2 3.9l-4.5 2l-4.3 2.8l-8 9.2l-10.8 18l-3.2 3.5l-6 5.1l-23.5 15.4l-43.3 20l-10.8 6l-8.2 6l-6.7 8l-4 8l-1.4 8l0 20l-1.2 4l-0.9 1.4l-2 1.4l-6 1.8l-50.4 9.4l-80.5 12l-35.1 4.3l-40 3.3l-34 1.2l-24 -0.6l-57.2 -4.2l-70.8 -7.7l-48 -7.2l-29 -5.1l-11 -2.5l-6 -2.5l-4 -2.9l-2 -2.5l-1.2 -3.6l0.3 -4l0.9 -2l9.5 -10l2.4 -4l0.2 -4l-0.7 -2l-4.9 -6l-11.4 -8l-21.1 -12l-52 -26.1l-28 -13.1l-22 -13.7l-6 -6.8l-3.3 -6.3l-1 -6l0.4 -6l2 -8l5.5 -16l1.1 -6l0 -4l-2.7 -10.1l-9.4 -19.9l-4.1 -10l-3.3 -12l-0.6 -8l0.3 -8l4.8 -24l-0.2 -6l-1 -4l-3 -8l-3 -6l-3.1 -4l-4.3 -4l-5.1 -3.3l-6 -2.6l-18 -5.2l-6 -3.9l0 -62.1l5.9 -4.9l10.1 -5.1l4 -3.6l4 -5.3l1.9 -6l2.7 -16l2.7 -12l9.3 -34l1.8 -10l0.3 -6l-0.8 -10l-2.1 -10l-3.4 -10l-4.5 -10l-7.3 -12l-8.9 -12l-8.7 -10l-7 -5.4Z" fill="#0020ff" fill-rule="evenodd"/>
<path d="M358.9 10l33.1 -1.2l30 0l32 1.8l14 -1.7l10 -0.4l20 1.2l38 0.8l24 2.4l24 -0.3l24 0.6l12 1.1l8 1.4l4.5 2.3l9.5 13.7l6.6 6.3l11.5 8l12.2 6l11.8 4l13.9 3.2l10 1.3l22 0.9l10 1.1l12 2.5l14 4.2l20 7.8l38 19l20 7.3l8 4.1l10 3l32.7 13.6l23.3 8.7l62 20.2l24 11.4l35.9 13.7l9.6 6l9.4 8l5.4 6l7.4 12l3.2 4l7.1 7l6 3.7l8 2.2l8 0.7l34 -1.7l16 0.2l12 1.7l8 2.4l6 3.1l4 2.8l4.1 3.9l2.8 4l1.8 4l0.9 6l-0.2 4l-1.4 5.9l-4 8.7l-6 7.5l-8 7.3l-12 7.8l-10 4.7l-10 3.4l-10 2.4l-23.3 4.3l-12.7 4.2l-24.7 11.8l-9.3 5.3l-12 7.9l-8 3.7l-4 0.8l-6 0l-12 -2.4l-12 -4.1l-22.1 -9.2l-9.9 -2.7l-4 -0.4l-6 0.5l-6 1.4l-6 2.4l-10 5.7l-12 9.3l-10 10l-18 23.5l-7 6.3l-9 6.3l-18 9.9l-10 4.1l-12 3.8l-11.6 5.9l-4.4 0.8l-8 0.1l-12 2.8l-14.8 8.3l-9.2 6.1l-4 1.6l-8 2.2l-4.6 2.1l-6.2 4l-10.1 8l-37.1 33.3l-16.1 12.7l-10.8 6l-17.1 8.1l-12 4.8l-14 4.6l-18 4.8l-14 2.8l-94 15.6l-12.4 3.3l-9.6 4l-4 1l-24 2.4l-10 1.6l-28 2.1l-12 -1.2l-24 -6.5l-28 -5.4l-16 -1.9l-38 -3.1l-16 -2.3l-23 -4.7l-23.1 -6l-29.9 -9.6l-44 -17l-14 -4.9l-16 -8.1l-10 -3.9l-8 -4.1l-6 -4.4l-5.4 -6l-4 -8l-4 -18l-4.8 -12l-7.8 -12l-24.6 -30l-3.4 -5.4l-1.9 -4.6l-1.9 -8l-0.5 -10l0.8 -8l3.4 -16l0.1 -6.3l-2 -8.6l-5.7 -17.1l-14 -38l-1.3 -8l1 -9.6l2.7 -8.4l5.2 -10l11.7 -16l3.7 -6l2.6 -10l2.2 -6l1.8 -8l2.5 -6l6 -20l2.2 -4l4.4 -6l7 -6.9l6 -4.5l8 -4.8l20 -8.9l14 -5.3l14 -4.6l38 -8.7l20.4 -6.3l10.2 -4l7.4 -4l4 -3.2l2.2 -2.8l0.4 -4l-1.7 -4l-3.7 -4l-5.2 -3.2l-18 -6.7l-32.4 -10.1l-8.7 -4l-2.9 -2.4l-2 -3.6l0 -2l0.8 -2l3.9 -4l8 -4l15.3 -4.5l12 -2.4l24 -3.5l22 -3.9l22 -2.5l28 -2.1l16 -0.4l14 0.9l12 -0.5Z" fill="#0060ff" fill-rule="evenodd"/>
<path d="M776.4 136l7.6 -1l18 0.5l14 3l20 6.3l17.9 7.2l24.1 11.5l10.2 6.5l4.7 4l3.4 4l2.2 4l0.6 4l-0.2 2l-0.9 2.3l-2 2.9l-10 8.3l-6 7.6l-3.1 6.9l-1.6 8l0.3 6l2.5 8l3.9 5l4 2.7l8 3.4l8 1.6l18.7 5.3l15.3 1.7l14 3.3l12 4.1l16 6.4l8 2.1l6 0l16 -3.9l4 -0.3l4.7 0.6l5.3 1.8l4 2.3l2 1.9l1.1 2l0.4 2l-0.3 2l-0.9 2l-2.3 2.4l-3 1.6l-5 1.1l-6 0.4l-4 -0.4l-12 -4.3l-6 -0.9l-4 0.7l-10 4.4l-20 11.7l-24 16l-22 15.6l-17.6 11.7l-26.4 19.6l-24 14l-8 3.5l-6 3.9l-8 4l-6 4.7l-6 3.8l-7.3 6.5l-10.7 8.4l-4 2l-4 0.6l-4 -1l-8 -3.1l-4 -0.3l-4 0.9l-6 2.6l-10 5.6l-56.6 36.3l-39.9 28l-11.5 6.8l-10 4.6l-6 1.3l-18 0.8l-10 1.1l-95.5 15.4l-42.5 1.6l-34 0.3l-10 0.7l-8 -0.8l-6 -2.4l-22 -11l-12 -4.7l-34 -9.9l-58 -14.2l-16 -5l-20 -7.7l-38 -15.8l-30 -13.5l-14 -7.1l-14 -8.2l-12 -8.2l-10 -7.9l-11.3 -10.2l-8.7 -9.4l-4.6 -6.6l-3.6 -8l-1.3 -6l-0.5 -8l2 -25.2l2 -12l2.5 -10.8l3.5 -10l4 -7.9l6 -7.5l8 -5.7l7.1 -2.9l20.9 -6.5l6 -2.6l4 -2.4l8 -6.7l4 -5.6l2 -4.2l1.8 -8l-0.5 -8l-2.2 -8l-7.1 -17.4l-2 -8.6l0.1 -8l1.1 -4l1.8 -4l5.4 -6l9.4 -6l22.3 -12l11.9 -4.7l12 -3.4l14 -2.7l12 -1.5l14 -0.7l44 0.6l60 3.8l38 4l36 5.5l26 5.9l46 12.1l22 4.3l22 2.4l18 0.4l38 -0.4l12 0.8l10 -0.9l9.9 -3.5l8.1 -3.6l14 -7.7l14 -6.3l20 -7.1l16 -4l12 -2.2Z" fill="#00a0ff" fill-rule="evenodd"/>
<path d="M699.6 166l10.4 -0.8l18 0.4l34 3.9l18 -1l8 0.1l10 1.2l28 5.4l2 1.4l2.5 3.4l7.2 16l2.3 14l1.5 16l1.3 6l3.5 10l7.4 12l6.4 6l15.9 10.6l12 5.8l15.7 5.6l10.3 4.7l1.8 1.3l1.4 2l0.4 2l-0.7 2l-2.9 3.4l-3.6 2.6l-36.4 21.6l-8.6 6.4l-13.4 8.2l-8 6.4l-14 8.9l-16 7l-12 6.4l-20 15.8l-2 0.4l-2 -0.3l-4.8 -2.8l-3.2 -0.6l-4 0.8l-12 4l-10 5.2l-40 23.2l-24 11.8l-18 7.8l-6 2l-6 1.1l-14 0.5l-4 1.6l-8 4.9l-6 2.3l-26 7.9l-20 4.3l-24 4.1l-18 2.3l-32 2.8l-36 5.4l-16 1.8l-18 0.8l-18 -0.2l-86 -6.2l-22 -2.3l-16 -2.4l-18 -4.2l-12 -3.3l-18 -6.8l-28 -12.4l-28.6 -14.2l-13.6 -8l-17.2 -12l-14.5 -12l-10.6 -12l-5.6 -10l-1.9 -8l-0.1 -6l0.6 -4l2.8 -8l4.4 -6l8.8 -8l7.7 -6l19.8 -13.6l24 -15.1l24 -13.2l10 -4.5l8 -2.8l18 -4.1l26 -2.5l12 -1.7l12 -2.8l10 -3.4l8.9 -4.3l9.8 -6l5.3 -4l8 -7.7l6 -4.4l8 -4.5l8 -3.2l8 -2.4l10 -2.2l22 -2.7l64 -4.5l90 -4.6l62 -6.6l12 -2.6l13.8 -4.6l20.2 -8.9l30 -14.8Z" fill="#00e0fb" fill-rule="evenodd"/>
<path d="M679.6 196l12.4 -1.1l14 0.8l24 5l16 1.7l14 2.3l10.3 3.3l11.7 4.6l4 0.9l2 -0.7l5.2 -4.8l4.8 -3.1l4 -1.3l2.5 0.4l1.5 1.7l0.3 2.3l-0.3 4.8l-2 8.8l-2 3.3l-2 1.2l-4 0.9l-0.6 1l0.8 4l7.6 12l1.5 2l4.5 4l10.2 4.5l2 1.3l12.9 12.2l11.1 6.3l15.5 7.7l1.8 2l1 4l-1.9 6l-4 6l-10.9 12l-13.5 12.6l-8 6l-4 1.6l-10 1.5l-4 1.2l-16 7.9l-16 5.8l-7.7 3.4l-10.3 5.7l-44 26.7l-16 8.6l-16 7.8l-14 6l-10 3.7l-12 2.8l-12 0.9l-14 5.8l-16 4.3l-8.8 3.7l-11.2 5.7l-8 3l-16 4.1l-16 2.6l-12 0.7l-30 -1l-14 0.5l-56 5.6l-50 1.1l-28 2.8l-18 1.1l-30 -1.7l-20 -2.6l-22 -5l-16 -5.5l-28 -12.5l-24.7 -12.9l-15.3 -10l-13.7 -12l-8.5 -10l-2.5 -4l-2.7 -6l-1 -4l-0.7 -6l0.4 -6l1.4 -6l3.9 -8l3.3 -4l4.1 -3.5l22 -10.4l60 -24.8l66.2 -23.3l7.8 -4.1l8 -5.1l9.5 -8.8l10.5 -7.5l10 -5.5l10 -3.9l10 -2.8l12 -2.2l40 -4.5l44 -3.1l50 -2.2l44 -4.1l52.3 -10.2l13.7 -3.5l24 -8Z" fill="#30ffc7" fill-rule="evenodd"/>
<path d="M688 220l8 -0.8l6 1l6 3.1l10 3.7l8 3.8l14 8l14 8.8l16 8.1l26 9.1l12 6.1l10 3.8l9.5 7.3l3.6 6l0.7 2l0.1 4l-0.9 4l-1.9 4l-3.1 4l-9.5 8l-26.5 17.3l-8 2.9l-8 0.6l-4 1.3l-10 6.1l-20.4 9.8l-39.6 23.8l-22 11.4l-14 6.3l-10 3.8l-10 2.6l-10 1.1l-14 6.1l-18 4.8l-8 3.3l-13.4 6.8l-10.6 3.7l-16 3.9l-14 1.9l-12 0.1l-28 -1.4l-14 0.3l-56 5.2l-44 1.4l-38 5.8l-10 0.9l-16 -0.1l-26 -2.1l-20 -3.9l-18.9 -5.7l-22.8 -10l-18.6 -10l-15.5 -10l-11.8 -10l-8.4 -10l-3.2 -6l-1.4 -4l-0.8 -4l0 -6l1.3 -6l1.8 -4l2.5 -4l3.7 -4l10.1 -7.5l8 -3.6l20 -6l62 -23.4l37.8 -13.5l6.6 -4l7.2 -8l8.4 -7.7l4 -2.9l12 -6.4l12 -4.3l14 -3.2l20 -2.7l34 -2.8l22 0l12 -2l48 -6l32 -2.8l20 -3l32 -7.6l28 -3.9l22 -2.2l26 0Z" fill="#63ff94" fill-rule="evenodd"/>
<path d="M633.3 234l24.7 -0.5l36 2.3l6 1l22 9.8l18 10.1l12 7.9l8 4l19.5 11.4l8.3 6l4.1 4l2.1 3.4l0.7 2.6l-0.4 4l-3.4 6l-5.8 6l-27.1 18.7l-6 2.9l-10 1.9l-4 1.7l-10 6.6l-15.7 8.2l-24.3 14.5l-24 12.5l-14 5.7l-6 1.7l-10 1.6l-14 6.6l-20 5.7l-18 8.4l-8 3.1l-16 4.4l-14 2.5l-14 0.8l-28 -1.8l-16 0.1l-50 4.7l-14 0.6l-26 0.2l-10 0.7l-14 2.2l-26 6.4l-12 1.7l-14 0l-18 -1.6l-14.7 -2.7l-15.3 -4.6l-14 -5.6l-15.8 -7.8l-15.8 -10l-12.7 -10l-6 -6l-3.1 -4l-4 -8l-0.8 -4l0.1 -4l2.1 -6l4 -5l6.8 -5l33.2 -16.7l16 -5.1l18 -7l42 -14.2l6 -2.6l8 -5.6l14 -14.1l5.8 -4.7l8.2 -4.7l10 -3.9l12 -3l16 -2.4l54 -4.1l22 -2.4l14 -2.6l16 -5.3l12 -2.8l44 -4.1l10 -1.6l18 -4.1l10 -1.8Z" fill="#97ff60" fill-rule="evenodd"/>
<path d="M624.2 244l15.8 -0.9l20 0.5l20 3l14.2 3.4l7.8 3.2l12.1 6.8l7.9 5.5l12.3 10.5l5.1 6l5.5 8l2.3 6l0.4 4l-0.4 4l-2.5 6l-6.5 8l-15.2 14l-3.9 2l-7.1 2l-4 1.8l-37.9 22.2l-15.3 8l-9.8 4l-11 2.8l-16 7.9l-18 5.6l-24 9l-16 4.6l-16 3.2l-16 0.9l-28 -2.4l-12 -0.2l-12 0.6l-40 3.9l-14 0.3l-22 -0.5l-10 0.4l-10 1.3l-12 2.9l-32 11.3l-8 1.1l-12 -0.3l-12 -1.5l-12.6 -2.9l-11.7 -4l-12.6 -6l-11.1 -6.6l-9.4 -7.4l-7.3 -8l-3.3 -6l-0.9 -4l0.3 -4l1.8 -4l3.2 -4l4.7 -4l16.9 -11.8l17.5 -14.2l4.5 -2.5l48 -16.7l6 -4.3l22 -18.5l8 -4.8l8 -3.4l10 -2.9l10 -1.9l14 -1.6l42 -3.3l34 -6.2l12 -3.4l10 -6.2l4 -1.9l10 -2.6l8 -1l36 -2.2l10 -1.4l20 -4Z" fill="#caff2c" fill-rule="evenodd"/>
<path d="M624.5 254l15.5 -0.7l16 0.5l16 2.9l8 2.9l20 10.8l5.2 3.6l4.8 4.5l4.6 5.5l3.5 6l2.1 6l0.4 4l-0.6 4.4l-2.5 5.6l-7.2 8l-14.3 10.9l-4 2.3l-10 4l-20 13.1l-14 7.9l-14 5.3l-12 6.9l-10 4.2l-32 10.3l-16 4.3l-12 2.6l-12 1.7l-12 0.4l-30 -3.7l-14 -0.8l-14 0.6l-36 3l-34 -1l-14 0.3l-10 1.6l-8 2.4l-12 5.3l-20.3 10.4l-5.7 2l-8 0.8l-14 -1.8l-10 -2.7l-6 -2.3l-7.1 -4l-4.9 -3.8l-3.6 -4.2l-2.2 -4l-1 -4l0.1 -4l2.7 -6.4l4 -4.6l16 -14.7l8.1 -10.3l7.8 -8l6.1 -4.5l20 -8.3l24 -17.2l6 -3.4l8 -3.6l10 -3l10.7 -2l49.3 -4.6l14 -2.2l18 -6.1l22 -6.4l4 -2.4l10 -7.7l10 -2.9l6 -0.8l26 -0.1l16 -1l18 -2.5l22 -3.9Z" fill="#feed00" fill-rule="evenodd"/>
<path d="M621.1 270l12.9 -1.2l16 0.6l8 1.6l12 3.9l8.1 5.1l7.9 6l4 4l2 3.8l0.6 2.2l-0.8 6l-3.7 6l-4.1 4l-27.4 22l-11.2 8l-31.4 16.9l-10 3.9l-16 4.6l-26 6.2l-12 1.7l-10 0.6l-14 -0.7l-30 -5.6l-16 -1.7l-16 0l-30 2.5l-20 -0.4l-26 -3.9l-20 -5.4l-6 -3.1l-7.6 -5.6l-3.5 -4l-1.9 -4l-0.4 -2l0.6 -4l2.1 -4l1.8 -2l7.7 -6l11.9 -6l7.3 -2.3l8 -1.7l42 -4.4l26 -4.5l8 -2.9l19.5 -10.2l8.5 -3.6l10 -3.3l12 -6.6l6 -2.2l10 -1.5l26 1.3l18 -0.7l16 -1.9l12 -2.5Z" fill="#ffb200" fill-rule="evenodd"/>
<path d="M613.6 288l18.4 -0.4l6 0.7l5.3 1.7l4.7 2.7l3.6 3.3l1.9 4l-0.1 4l-1.6 4l-4.2 6l-5.5 6l-10.5 10l-3.6 2.7l-12.4 7.3l-11.5 6l-4.1 1.4l-24.6 6.6l-10.3 2l-13.1 0.6l-12 -1.3l-8 -2l-12 -4.2l-13.1 -7.1l-5.4 -4l-5.5 -5.4l-1.9 -2.6l-1.6 -4l-0.5 -4l0.6 -4l3.4 -6.3l8.4 -7.7l6.8 -4l6.8 -2.9l6 -1.5l8 -1l28 0l16 -0.6Z" fill="#ff7700" fill-rule="evenodd"/>
<path d="M1308.5 356.5L1314 348L1320 355.5L1314.5 366Z" fill="#0020ff"/>
<use href="#coast"/>
</g>
<rect x="0" y="0" width="1331" height="656" fill="none" stroke="#000" stroke-width="3.33"/>
</g>
<text x="744" y="107" font-size="50" text-anchor="middle" xml:space="preserve">Combined (GIM), 2006-08-23 17:00 UT</text>
<rect x="78.5" y="831.5" width="83.7" height="66" fill="#0000a4"/>
<rect x="161.7" y="831.5" width="83.7" height="66" fill="#0000ed"/>
<rect x="244.9" y="831.5" width="83.7" height="66" fill="#0020ff"/>
<rect x="328.1" y="831.5" width="83.7" height="66" fill="#0060ff"/>
<rect x="411.2" y="831.5" width="83.7" height="66" fill="#00a0ff"/>
<rect x="494.4" y="831.5" width="83.7" height="66" fill="#00e0fb"/>
<rect x="577.6" y="831.5" width="83.7" height="66" fill="#30ffc7"/>
<rect x="660.8" y="831.5" width="83.7" height="66" fill="#63ff94"/>
<rect x="744" y="831.5" width="83.7" height="66" fill="#97ff60"/>
<rect x="827.2" y="831.5" width="83.7" height="66" fill="#caff2c"/>
<rect x="910.4" y="831.5" width="83.7" height="66" fill="#feed00"/>
<rect x="993.6" y="831.5" width="83.7" height="66" fill="#ffb200"/>
<rect x="1076.8" y="831.5" width="83.7" height="66" fill="#ff7700"/>
<rect x="1159.9" y="831.5" width="83.7" height="66" fill="#ff3b00"/>
<rect x="1243.1" y="831.5" width="83.7" height="66" fill="#e80000"/>
<rect x="1326.3" y="831.5" width="83.2" height="66" fill="#9f0000"/>
<rect x="78.5" y="831.5" width="1331" height="66" fill="none" stroke="#000" stroke-width="3.33"/>
<line x1="78.5" y1="897.5" x2="78.5" y2="912.1" stroke="#000" stroke-width="3.33"/>
<text x="78.5" y="959.1" font-size="41.67" text-anchor="middle">0</text>
<line x1="244.9" y1="897.5" x2="244.9" y2="912.1" stroke="#000" stroke-width="3.33"/>
<text x="244.9" y="959.1" font-size="41.67" text-anchor="middle">5</text>
<line x1="411.2" y1="897.5" x2="411.2" y2="912.1" stroke="#000" stroke-width="3.33"/>
<text x="411.2" y="959.1" font-size="41.67" text-anchor="middle">10</text>
<line x1="577.6" y1="897.5" x2="577.6" y2="912.1" stroke="#000" stroke-width="3.33"/>
<text x="577.6" y="959.1" font-size="41.67" text-anchor="middle">15</text>
<line x1="744" y1="897.5" x2="744" y2="912.1" stroke="#000" stroke-width="3.33"/>
<text x="744" y="959.1" font-size="41.67" text-anchor="middle">20</text>
<line x1="910.4" y1="897.5" x2="910.4" y2="912.1" stroke="#000" stroke-width="3.33"/>
<text x="910.4" y="959.1" font-size="41.67" text-anchor="middle">25</text>
<line x1="1076.8" y1="897.5" x2="1076.8" y2="912.1" stroke="#000" stroke-width="3.33"/>
<text x="1076.8" y="959.1" font-size="41.67" text-anchor="middle">30</text>
<line x1="1243.1" y1="897.5" x2="1243.1" y2="912.1" stroke="#000" stroke-width="3.33"/>
<text x="1243.1" y="959.1" font-size="41.67" text-anchor="middle">35</text>
<line x1="1409.5" y1="897.5" x2="1409.5" y2="912.1" stroke="#000" stroke-width="3.33"/>
<text x="1409.5" y="959.1" font-size="41.67" text-anchor="middle">40</text>
<g transform="translate(78.5,1117.5)">
<g clip-path="url(#ax)">
<rect x="-1" y="-1" width="1333" height="658" fill="#0000a4"/>
<path d="M-4 -4l1340 0l0 73.9l-8 -2.5l-14 -2.6l-43.1 -6.8l-26.9 -3.3l-29.8 -2.7l-30.2 -2l-30 -1.3l-24 -0.3l-22 0.4l-24 1.3l-24 2.1l-20 2.7l-15.3 3.1l-13.2 4l-9.5 4.2l-8 5.5l-2.3 2.3l-2.5 4l-1.3 4l-0.5 6l0.5 4l1.7 4l4.4 6l8 7.3l12 7.5l32 16.2l6 2.6l8 2.3l3.9 2.1l4.9 4l0.7 2l-0.2 2l-1 2l-2.3 2.1l-4 1.8l-6 0.7l-10 -0.6l-8 1.3l-18 5.1l-14 5.2l-12 6.1l-12 9.5l-6 3.4l-10 3l-22 9.7l-20 7.1l-8 4.2l-8 2.6l-8 3.7l-8 2.4l-4 2.4l-4 3.4l-2.2 2.9l-0.8 2l0.6 4l2.8 4l4.4 4l8.7 6l18.5 10.4l22 9l22 12l5.6 4.6l1.9 4l0.5 6l-0.8 6l-3.2 12l0.6 2l4.7 6l3.7 6l6.9 6l2.9 4l0.9 4l-0.2 4l-2.7 8l-4.3 6l-4.5 3.6l-4 1.6l-6 0.2l-6 -2.5l-4 -3.5l-3.8 -5.4l-4.2 -9.1l-2 -1.5l-2 -0.1l-1.9 0.7l-2.1 2l-4.5 6l-5.5 5.4l-10 7.9l-6.9 4.7l-5.1 4.6l-6 4.1l-6 5.2l-28.7 20.1l-15.3 11.8l-10 5.5l-8 5.2l-8 4l-12 7.7l-3.6 3.8l-1.2 4l0.8 5.2l2 3.7l8 6.9l4 2l8.6 2.2l13.4 6.9l2 0.6l8 0.7l6 -1.3l12 -6l6 -4.1l6 -3.2l7.1 -5.6l6.9 -3.3l8 -6l8 -3.9l8 -5.2l20 -8.8l10 -2.9l12 -1.9l14 -1l10 0.8l8 2.4l6 1.2l14 0.1l16 -1.9l36 -6.8l26 -3.9l26 -1.6l30 0.5l24 1.9l56 6.5l56 11.1l26 3.9l14 3.2l8 2.3l4 1.5l0 35l-8 1.5l-20 -0.9l-14 -3.7l-12 -2.5l-38 -5.7l-26 -3l-12 -3.3l-12 -2.5l-18 -1.6l-26 -0.5l-20 1.2l-52 6l-34 2.2l-44 3.8l-8 2l-2.5 1.8l-5.5 6.6l-2 1.4l-6 1.3l-12 -1.2l-14 -0.4l-20 4.6l-14 1.6l-12 0.5l-12 -0.1l-12 -1.5l-12 -0.4l-4 0.4l-10 3.9l-14 7.6l-8 0.9l-2 1.2l-4 3.9l-5.2 7.7l-4.8 5.5l-10 15l-6 11.2l-7.2 18.3l-5.5 26l-4.1 8l-5.2 5.7l-10 8.2l-26 15.7l-10 3.6l-6 3.8l-8 2.9l-6 3.2l-8 3.2l-4 2.7l-5 5l-5.5 4l-9.4 6l-11.1 6l-484.4 0l-6.6 -3.6l-6 -2.2l-34 -7.6l-42.5 -10.6l-47.5 -13.3l-16 -3.5l-24 -1.6l-6 -1.4l-2.1 -2.2l-0.4 -2l0.5 -2l1.7 -2l4.2 -2l10.1 -2.5l8 -3.3l4 -2.8l6 -6.6l4.8 -8.8l7.7 -20l9.5 -14.6l2.9 -5.4l1.9 -6l0.7 -8l-1.5 -8l-4 -8l-6 -8l-8 -7.5l-8 -5.5l-8 -4.4l-10 -3.9l-15 -4.7l-5 -2.8l0 -34.7l6 -1.2l20 0.5l10 -1.5l6 -1.8l6 -2.8l6 -3.8l4.6 -3.9l3.4 -3.8l2.8 -4.2l1.8 -4l1.8 -6l1.6 -14l0.4 -24l-1.2 -20l-2.7 -14l-3.6 -12l-2.9 -3.8l-6.4 -6.2l-13.6 -16.6l-13.5 -15.4l-5 -8l-2.6 -8l-0.6 -8l1.6 -8l4.4 -10l9.9 -16l4.2 -8l3.1 -10l0.9 -6l0 -4l-0.6 -4l-1.9 -6l-3.1 -6l-3 -4l-3.8 -3.9l-6 -4.6l-4 -2.5l-11 -5l-2.4 -2l-0.9 -2l-0.2 -4l1.9 -6l14.6 -25.7l6.9 -14.3l3 -10l1 -10l-0.7 -6l-2.2 -7.4l-3.6 -6.6l-3.3 -4l-5 -4l-4.1 -2.1l-6 -1.6l-8 -0.6ZM999.2 264l24.8 -1.4l30 1.4l14 1.8l20 5.1l10 1.2l10 -1.4l20 -5.4l6 -0.7l6 0.3l4 1.1l4 1.9l4.3 4.1l1.6 4l3.9 16l-0.5 6l-1.4 4l-3.9 6.2l-4 4l-6 4.4l-6 3.3l-8 3.4l-10 3.2l-12 2.9l-12 2.1l-6 0.4l-6 -0.8l-22 -4.8l-14 -1.1l-12 1l-14 3l-4 -0.1l-6.3 -3.1l-11.9 -8l-5.8 -5.4l-2 -4.1l-0.5 -14.5l-0.7 -6l-1.5 -6l-3.6 -10l-0.8 -4l1.1 -1.8l2 -0.7Z" fill="#0000ed" fill-rule="evenodd"/>
<path d="M-4 -4l1340 0l0 19.3l-78 -4.8l-68 -2.3l-54 -0.8l-24 1.4l-24 -1.7l-44 0.5l-34 1.8l-24 0.4l-40 4.1l-8.5 2.1l-13.5 4.8l-16.6 1.2l-9.4 2.9l-7.9 3.1l-3.6 2l-1.4 2l0.1 2l2.7 6l0.8 4l0 4l-1 4l-3.7 6.2l-4 3.6l-5.9 4.2l0 2l10.7 26l4.5 18l2 12l0.8 10l-0.1 16l-1.7 12l-1.9 6l-1.9 4l-6.5 10l-8.7 10l-17.1 16l-8.8 10l-2 4l-1.1 4l-0.1 6l0.8 4l1.7 4l3.3 4.9l3.1 3.1l38.9 28.5l24.9 15.5l8.7 6l6.7 6l1.9 4l-0.5 2l-3.1 2l-12.6 4.1l-10 4.7l-10 6.4l-23.3 16.8l-12.7 8.5l-44 24.7l-12.9 8.8l-35.1 27.3l-21.9 18.7l-5.9 6l-4.8 6l-3.2 6l-0.8 4l0 4l1 6l7.2 22l0.4 6.4l-1.5 5.6l-5.5 6l-21 15.9l-10 9.3l-8 8.8l-12 16.1l-8 8.3l-11.8 9.6l-12.2 7.8l-14 7l-6 1.7l-14 2.6l-172 26l-36 4.3l-22 1l-42 -2.8l-88 -4.2l-26 -3.5l-10 -2.1l-8 -2.8l-5.1 -3l-4.9 -4l-2 -2.4l-1.8 -3.6l0 -4l1.4 -4l2.5 -4l7.9 -9.8l1.9 -4.2l0.3 -2l-0.8 -4l-3.1 -6l-3.2 -4l-11.2 -10l-13.5 -10l-11.9 -8l-15.9 -10l-10.6 -5.9l-28 -11.2l-8 -6.1l-5.6 -6.8l-2.2 -4l-1.3 -4l-0.6 -6l0.4 -4l2.5 -8l8 -18l1.3 -6l-0.1 -8l-1.4 -6l-2.3 -6l-14.7 -28.2l-2.4 -5.8l-3 -10l-1.6 -8l-1.7 -26l-1.6 -14l-2 -8l-6.2 -18l-2.1 -8l-2.2 -12l-0.7 -10l0.5 -10l1.5 -10l3.2 -14l6.2 -22l2.1 -16l-0.1 -10l-1.1 -8l-1.9 -8l-2.8 -8l-1.6 -8l-0.7 -8l0.4 -6l1.9 -8l3.3 -8l12.2 -16l3.3 -6l2.1 -6l-0.3 -6l-1.3 -4l-3.2 -6l-10 -12l-14.5 -14l-15.3 -12l-18.7 -12l-5.7 -2.9l-8 -2.4l-15.2 -2.7l-6.8 -2.1Z" fill="#0020ff" fill-rule="evenodd"/>
<path d="M391.1 14l32.9 -0.7l26 1.4l26 -1.6l58 1.1l14 1l16 3.7l8.7 1.1l26.2 12l2.9 2l9.3 8l2.8 4l4 8l1.9 2l5.6 4l8.6 3.4l6.5 4.6l3.5 1.7l7.3 2.3l8.7 1.8l26 3.2l14 0.3l16 -2.1l10 0.4l14 4l26 5.3l10 4l12 8.4l9.4 8.7l8.2 12l5 12l11.4 38l0.2 4l-0.5 6l-4.2 24l-0.9 8l0.2 8l1.8 8l4.2 10l8.3 14l12.9 16.9l12.1 13.1l5.3 8l2.5 6l1.1 6l-0.5 6l-1.2 4l-3.3 6l-4 4.9l-5.7 5.1l-5.9 4l-8.4 4l-24 8l-14.6 6l-16.4 10l-11.6 10l-27.4 25.8l-48.3 40.2l-9.1 10l-3.7 6l-1.7 4l-1.6 8l-1 22l-1.4 6l-2.9 6l-4.3 3.9l-14 9l-16 12.6l-4 2.6l-6 2.1l-8 1.8l-76 13l-22 2.3l-22 0.1l-28 -2.4l-14 -2.2l-14 -2.9l-28 -7.4l-50 -15.9l-12 -2.7l-10 -0.5l-10 1.4l-14 0.9l-14 2.9l-10 1.2l-26 -0.6l-24 -5.3l-6 -2.5l-6 -4.4l-1.6 -3l0.4 -2l1.2 -1.2l2 -1.1l8 -2.7l12 -2.3l4 -0.4l8 0.6l6 -0.1l19.3 -2.8l3.2 -2l-0.5 -2l-2.6 -2l-17.4 -10l-14 -5.2l-52.1 -22.8l-27.9 -11.3l-18 -8.3l-10 -5.3l-12 -8.2l-12 -10.9l-10 -11.8l-7.5 -12.2l-4.4 -12l-1 -6l-0.5 -8l3.2 -54l0.8 -8l1.4 -6l3.6 -8l4.4 -5.2l8 -5.7l18.6 -9.1l3.4 -3.5l1.4 -4.5l-0.4 -4l-1.5 -4l-11.5 -18.6l-4.9 -9.4l-3.1 -8l-2 -8l-1.9 -14l0.1 -12l2.2 -8l2 -4l3.6 -5.4l6 -6.1l6.4 -4.5l7.6 -4l12 -4.7l34 -10.3l8 -1.3l16 -1.1l4 -1.6l8 -4.6l6 -2.3l50 -13.2l6 -2.2l4.6 -2.7l2.2 -2l1.9 -4l0.5 -4l-1.2 -6.1l-4 -7.9l-7 -10l-7 -7.9l-9.2 -8.1l-3.2 -4l-1.6 -3.9l0 -2.1l1.1 -2l2.5 -2l8.4 -2.4l42 -4.9l6 -1.3l12 -3.6Z" fill="#0060ff" fill-rule="evenodd"/>
<path d="M253.4 150l10.6 -0.4l8 0.6l9.6 1.8l6.4 2.4l10.1 5.6l10.9 8l11 12.4l4 3.4l6.1 2.2l11.9 5.5l7.8 2.5l3.2 2l0.1 2l-3.1 3.6l-3 6.4l-2.6 10l-0.6 6l0.3 2l1.3 2l2.6 1.2l4 0.5l11.6 -1.7l10.9 -4l9.7 -6l4.2 -4l5.6 -6.8l4 -1.5l12 0l30 2l40 0.3l42 -1.3l38 -2.7l10 -1.6l16 -1l24 -4.9l28 -4.5l30 -2.7l30 -3.8l12.5 -3.5l11.5 -5.8l6 -1.9l6 -0.7l8 1.1l8 3.4l6 4.3l5 5.6l3.1 6l1.7 6l0.3 4l-2.5 22l-0.1 8l2.4 10l3.3 6l5.6 6l7.2 4.9l10 4.6l20 7.8l10 6.2l4.7 4.5l4.1 6l1.4 4l0.1 6l-2.7 6l-3.6 4l-2.7 2l-22.6 12l-8.7 6.5l-8 4.3l-4 3.4l-22 14.7l-48 34.3l-22 13.7l-20 10.5l-20 9.2l-16 6.4l-34 12.1l-12 3.7l-54.7 13.2l-13.7 4l-6.5 4l-1.9 2l-1.9 4l-0.2 4l2.3 10l0.2 4l-1.1 6l-2.8 4l-2.6 2l-3.9 2l-11.2 2.6l-8 0.1l-12 -1.6l-13.1 -5.1l-31.8 -16l-11.1 -4.5l-10 -3.3l-20 -4l-44 -5.4l-30 -6.1l-24 -5.6l-22 -7.8l-62 -24.5l-12 -5.4l-12 -6.3l-10 -6.2l-9 -6.9l-8 -8l-6.1 -8l-4.2 -8l-2.4 -8l-0.9 -10l1 -10l2.3 -6l4.3 -6l7 -6.9l10 -7.5l8 -4.8l12 -6l36 -16.4l14 -5l20 -6.2l44.1 -11.2l13.6 -4l20.3 -8.5l2.5 -1.5l3.4 -4l1.6 -4l1.8 -10l0.2 -4l-0.6 -2l-1.3 -2l-5.7 -6l-7.9 -6.3l-12 -6.1l-6 -2.2l-37 -7.4l-19.2 -6l-9.8 -4.3l-10.4 -5.7l-5.6 -4l-6 -6.4l-1.6 -3.6l0.3 -4l2.5 -4l4.7 -4l4.1 -2l8 -2.6l8 -1.8Z" fill="#00a0ff" fill-rule="evenodd"/>
<path d="M654.4 208l25.6 -0.7l20 1.9l8 1.8l8 2.6l6 2.6l6 3.8l4 3.8l4 5.6l9.3 18.6l8 14l18.3 26l3 6l0.6 6l-1.3 4l-3.9 6l-11.4 12l-12.4 12l-8.2 10.4l-8 7.2l-16.6 12.4l-19.4 13.8l-14 9.1l-16 9.4l-18 9l-14 6l-12 4.4l-24 6.8l-32 7l-28 3.8l-44 3.6l-16 2.7l-26 5.7l-20 3.3l-24 1.8l-74 1.1l-28 -4.7l-12 -2.6l-10 -2.9l-35 -13.3l-35 -15.2l-21.3 -10.8l-14.7 -9.9l-6 -5.4l-4.1 -4.7l-3.8 -6l-1.8 -4l-1.4 -6l-0.4 -6l0.7 -6l1 -4l2.8 -6l3 -3.8l4 -3.8l4 -2.7l78 -31.4l56 -19.6l24 -10l74 -19.2l40 -8.1l18 -3.1l38 -5.2l70.4 -7.1l11.6 -1.7l6 -1.7l18 -8.3l12 -4l18 -4.3Z" fill="#00e0fb" fill-rule="evenodd"/>
<path d="M638.8 226l9.2 -0.9l10 -0.3l12 0.6l10 1.2l10 2.3l10 3.2l10 4.2l6 3.4l8 6l6 6l4 5l7 11.3l3.5 8l2.4 8l1.3 8l-0.2 6l-1.3 6l-2.6 6l-14.5 22l-7.1 8l-13.4 12l-21.3 16l-15.8 10.4l-14 8.2l-18.6 9.4l-20.2 8l-13.2 3.8l-32 7.3l-28 4.8l-14 1.4l-30 1.3l-12 1.1l-44 7.9l-20 2.6l-18 1.1l-28 0.8l-42 5l-10 0l-14 -1.8l-24 -5.2l-18 -6.3l-23.2 -9.8l-28.5 -14l-20.7 -12l-7.6 -6l-4 -4l-4.1 -6l-1.7 -4l-0.8 -4l0.1 -6l1 -4l1.5 -3.3l2 -3l3.6 -3.7l8.4 -5.8l10 -5l8.4 -3.2l5.6 -1l12 -0.7l6 -1.4l22 -11.9l44 -19.8l20 -10.6l14 -6l14 -3.7l60 -13.3l48 -9.1l54 -6.8l34 -2.6l28 -1.4l8 -1.1l6 -1.9l14 -7.4l8 -3.4l12 -3.6Z" fill="#30ffc7" fill-rule="evenodd"/>
<path d="M649.7 240l18.3 0.9l16 3.2l8 2.6l8 3.4l6 3.2l6 4.1l9.2 8.6l3 4l3.2 6l2.2 6l1.1 6l0.1 6l-0.9 6l-3.9 9.7l-6.7 10.3l-17.1 22l-9.1 8l-17.1 12.4l-24 14.4l-20 9.9l-18 6.9l-42 10.2l-26 4.6l-16 1.3l-24 0.4l-12 0.8l-12 1.6l-28 5.4l-16 2.5l-16 1.5l-34 0.9l-12 1l-10 1.4l-28 5.5l-10 0.5l-14 -1.7l-18 -4l-16.1 -5.5l-18.1 -8l-24.6 -14l-8.8 -6l-9.1 -8l-2.9 -4l-1.7 -4l-0.4 -4l1 -4l2.8 -4l3.9 -3.1l26 -11.9l6 -3.9l14 -11l12 -5.6l28 -15.3l14 -10.2l11.8 -7l12.2 -4.7l16 -3.8l60 -12.3l40 -7.2l38 -5l20 -2l26 -1.8l32 -1.2l10 -1l6 -1.8l14 -7l10 -3.7l16 -3.3Z" fill="#63ff94" fill-rule="evenodd"/>
<path d="M638.3 254l15.7 -0.1l14 1.5l12 2.9l12.7 5.7l6.2 4l4.8 4l3.7 4l2.6 3.8l3.2 8.2l0.6 6l-0.3 4l-1.8 6l-4.8 8l-22.6 28l-6.4 6l-10.8 8l-20 12l-15.8 8l-15.3 6.2l-12 3.7l-32 7.6l-24 4.1l-12 0.8l-26 -0.7l-14 0.8l-16 2.5l-30 6.4l-16 2l-16 0.4l-30 -1.2l-10 0.6l-12 2.5l-28 9.4l-8 1.4l-10 -0.5l-12 -2.3l-10 -2.8l-12.3 -4.9l-10.9 -6l-5.5 -4l-5.9 -6l-3.2 -6l-0.5 -6l2.3 -6l3.2 -4l16.8 -16.7l14 -18l4 -3.6l12 -8.1l4 -3.3l8 -9.5l4 -3.6l4 -2.5l8 -3.2l12 -3.4l16 -3.3l76 -14.5l26 -4.1l28 -3.5l32 -3.1l60 -3.3l6 -2l12 -5.7l8 -2.8l10 -2.3Z" fill="#97ff60" fill-rule="evenodd"/>
<path d="M633.2 268l12.8 -0.1l12 1.3l12 2.9l9.3 3.9l8.5 6l4.2 5.2l2.6 6.8l0 6l-2.1 6l-5.5 8l-15 16.4l-12 11.6l-10.7 8l-9.7 6l-11.5 6l-12.1 5.1l-18 5.4l-24 5.7l-14 2.5l-10 1.1l-10 0.2l-30 -2.1l-14 0.4l-14 2.3l-29.9 7.4l-14.1 1.8l-10 0.1l-10 -0.7l-12 -1.8l-28 -5.5l-8 -0.8l-8 0.2l-4 0.9l-6 2.7l-6 4.4l-7.6 6.7l-5.8 4l-4.6 1.8l-4 0.7l-8 -0.4l-8 -2.6l-6 -3.8l-2 -2l-2 -3.7l-0.4 -2l0.4 -3.4l2.6 -4.6l4.6 -4l12.8 -8.8l3.1 -3.2l2.9 -4.7l2.5 -7.3l1 -8l-0.7 -6l-2.1 -6l0 -6l1.4 -4l2.6 -4l3.3 -3.2l4 -2.2l6 -1.6l16 -2.9l54 -8.8l48 -9.1l22 -3.5l52 -6.3l18 -1.5l38 -1.7l6 -1.6l12 -4.9l6 -1.9l8 -1.6Z" fill="#caff2c" fill-rule="evenodd"/>
<path d="M611.9 284l10.1 -1.1l12 0.2l10 1.4l10 3l8 4.1l5 4.4l2.2 4l0.4 2l-0.3 4l-1.8 4l-3.1 4l-10.4 10.5l-11.9 13.5l-6.1 5.2l-10 5.8l-12 5.2l-12 3.9l-14 3l-22 3.3l-16 0.6l-12 -1.3l-26 -5.2l-14 -0.6l-8 0.9l-8 1.7l-24 7.1l-10 2.3l-12 1l-12 -0.8l-12 -2.7l-12 -4.9l-10.2 -6.5l-9.8 -9.5l-4 -1.7l-10 -1l-6 -1.9l-6.1 -3.9l-3.6 -4l-0.9 -2l0 -2l0.6 -0.7l1.6 -1.3l2.4 -0.6l16 -1.2l12 1.4l9.4 -3.6l4.6 -1.2l54 -9.9l62 -14.6l20 -3.9l22 -2.7l34 -1.8l6 -1.1Z" fill="#feed00" fill-rule="evenodd"/>
<path d="M603.8 300l8.2 -0.7l8 0.7l8 3.1l4 2.4l2.6 2.5l2.2 4l0.1 6l-2.9 6.7l-4 4.7l-4 2.4l-10 2.6l-14 5.6l-4 1.1l-10 1.7l-12 0.1l-14 -1.5l-11.9 -3.4l-6.1 -2.7l-5.3 -3.3l-2.7 -2.5l-2.3 -3.5l-0.3 -4l2.3 -4l5.5 -4l4.4 -2l5.8 -2l8.6 -2l30 -3.7Z" fill="#ffb200" fill-rule="evenodd"/>
<use href="#coast"/>
</g>
<rect x="0" y="0" width="1331" height="656" fill="none" stroke="#000" stroke-width="3.33"/>
</g>
<text x="744" y="1092" font-size="50" text-anchor="middle" xml:space="preserve">Ionosphere  (h=450.0 km), 2006-08-23 17:00 UT</text>
<rect x="78.5" y="1816.5" width="83.7" height="66" fill="#0000a4"/>
<rect x="161.7" y="1816.5" width="83.7" height="66" fill="#0000ed"/>
<rect x="244.9" y="1816.5" width="83.7" height="66" fill="#0020ff"/>
<rect x="328.1" y="1816.5" width="83.7" height="66" fill="#0060ff"/>
<rect x="411.2" y="1816.5" width="83.7" height="66" fill="#00a0ff"/>
<rect x="494.4" y="1816.5" width="83.7" height="66" fill="#00e0fb"/>
<rect x="577.6" y="1816.5" width="83.7" height="66" fill="#30ffc7"/>
<rect x="660.8" y="1816.5" width="83.7" height="66" fill="#63ff94"/>
<rect x="744" y="1816.5" width="83.7" height="66" fill="#97ff60"/>
<rect x="827.2" y="1816.5" width="83.7" height="66" fill="#caff2c"/>
<rect x="910.4" y="1816.5" width="83.7" height="66" fill="#feed00"/>
<rect x="993.6" y="1816.5" width="83.7" height="66" fill="#ffb200"/>
<rect x="1076.8" y="1816.5" width="83.7" height="66" fill="#ff7700"/>
<rect x="1159.9" y="1816.5" width="83.7" height="66" fill="#ff3b00"/>
<rect x="1243.1" y="1816.5" width="83.7" height="66" fill="#e80000"/>
<rect x="1326.3" y="1816.5" width="83.2" height="66" fill="#9f0000"/>
<rect x="78.5" y="1816.5" width="1331" height="66" fill="none" stroke="#000" stroke-width="3.33"/>
<line x1="78.5" y1="1882.5" x2="78.5" y2="1897.1" stroke="#000" stroke-width="3.33"/>
<text x="78.5" y="1944.1" font-size="41.67" text-anchor="middle">0</text>
<line x1="244.9" y1="1882.5" x2="244.9" y2="1897.1" stroke="#000" stroke-width="3.33"/>
<text x="244.9" y="1944.1" font-size="41.67" text-anchor="middle">5</text>
<line x1="411.2" y1="1882.5" x2="411.2" y2="1897.1" stroke="#000" stroke-width="3.33"/>
<text x="411.2" y="1944.1" font-size="41.67" text-anchor="middle">10</text>
<line x1="577.6" y1="1882.5" x2="577.6" y2="1897.1" stroke="#000" stroke-width="3.33"/>
<text x="577.6" y="1944.1" font-size="41.67" text-anchor="middle">15</text>
<line x1="744" y1="1882.5" x2="744" y2="1897.1" stroke="#000" stroke-width="3.33"/>
<text x="744" y="1944.1" font-size="41.67" text-anchor="middle">20</text>
<line x1="910.4" y1="1882.5" x2="910.4" y2="1897.1" stroke="#000" stroke-width="3.33"/>
<text x="910.4" y="1944.1" font-size="41.67" text-anchor="middle">25</text>
<line x1="1076.8" y1="1882.5" x2="1076.8" y2="1897.1" stroke="#000" stroke-width="3.33"/>
<text x="1076.8" y="1944.1" font-size="41.67" text-anchor="middle">30</text>
<line x1="1243.1" y1="1882.5" x2="1243.1" y2="1897.1" stroke="#000" stroke-width="3.33"/>
<text x="1243.1" y="1944.1" font-size="41.67" text-anchor="middle">35</text>
<line x1="1409.5" y1="1882.5" x2="1409.5" y2="1897.1" stroke="#000" stroke-width="3.33"/>
<text x="1409.5" y="1944.1" font-size="41.67" text-anchor="middle">40</text>
<g transform="translate(78.5,2102.5)">
<g clip-path="url(#ax)">
<rect x="-1" y="-1" width="1333" height="658" fill="#0000ff"/>
<path d="M-18.5 168.5C-15.4 124.8 -6.7 168.9 0 170C6.7 171.1 13.8 172.9 21.5 175C29.2 177.1 39 180 46.5 182.5C54 185 60.7 187.1 66.5 190C72.3 192.9 77.3 196.2 81.5 200C85.7 203.8 89 207.9 91.5 212.5C94 217.1 95.5 222.5 96.5 227.5C97.5 232.5 96.7 237.5 97.5 242.5C98.3 247.5 99.2 253.3 101.5 257.5C103.8 261.7 106.9 264.8 111.5 267.5C116.1 270.2 123.2 272.8 129 273.5C134.8 274.2 141.5 273.3 146.5 271.5C151.5 269.7 154.8 266.1 159 262.5C163.2 258.9 166.9 253.8 171.5 250C176.1 246.2 180.7 242.5 186.5 240C192.3 237.5 199 235.8 206.5 235C214 234.2 223.2 234.4 231.5 235C239.8 235.6 248.2 236.8 256.5 238.5C264.8 240.2 274 243.3 281.5 245C289 246.7 294.8 248.1 301.5 248.5C308.2 248.9 314.8 248.5 321.5 247.5C328.2 246.5 333.2 245 341.5 242.5C349.8 240 361.5 235.8 371.5 232.5C381.5 229.2 391.5 225.2 401.5 222.5C411.5 219.8 420.7 218 431.5 216.5C442.3 215 454.8 214.2 466.5 213.5C478.2 212.8 489 212.8 501.5 212.5C514 212.2 529.8 212.3 541.5 211.5C553.2 210.7 561.5 209.3 571.5 207.5C581.5 205.7 590.8 203.5 601.5 200.5C612.2 197.5 627.2 191.8 635.5 189.5C643.8 187.2 643.8 188.5 651.5 186.5C659.2 184.5 671.5 180.5 681.5 177.5C691.5 174.5 701.5 171.7 711.5 168.5C721.5 165.3 731.5 161.8 741.5 158.5C751.5 155.2 761.5 151.6 771.5 148.5C781.5 145.4 791.5 142.7 801.5 140C811.5 137.3 821.5 134.8 831.5 132.5C841.5 130.2 851.5 128.2 861.5 126.5C871.5 124.8 881.5 123.6 891.5 122.5C901.5 121.4 911.5 120.7 921.5 120C931.5 119.3 942.2 118.9 951.5 118.5C960.8 118.1 966.5 117.5 977.5 117.5C988.5 117.5 1004.2 118 1017.5 118.5C1030.8 119 1044.2 119.5 1057.5 120.5C1070.8 121.5 1084.2 122.9 1097.5 124.5C1110.8 126.1 1124.2 128 1137.5 130C1150.8 132 1164.2 134.4 1177.5 136.5C1190.8 138.6 1205.8 140.5 1217.5 142.5C1229.2 144.5 1237.5 146.4 1247.5 148.5C1257.5 150.6 1267.5 153.1 1277.5 155C1287.5 156.9 1298.8 158.6 1307.5 160C1316.2 161.4 1322.7 162.4 1330 163.5C1337.3 164.6 1347.9 120.8 1351.5 166.5C1355.1 212.2 1355.1 392.5 1351.5 437.5C1347.9 482.5 1340.7 436.9 1330 436.5C1319.3 436.1 1299.6 435.7 1287.5 435C1275.4 434.3 1267.5 433.3 1257.5 432.5C1247.5 431.7 1237.5 431 1227.5 430C1217.5 429 1207.5 427.6 1197.5 426.5C1187.5 425.4 1177.5 424.2 1167.5 423.5C1157.5 422.8 1147.5 422.2 1137.5 422.5C1127.5 422.8 1117.5 423.8 1107.5 425C1097.5 426.2 1089.2 428.3 1077.5 430C1065.8 431.7 1050.8 433.6 1037.5 435C1024.2 436.4 1010.8 437.4 997.5 438.5C984.2 439.6 970.8 440 957.5 441.5C944.2 443 930.8 445.5 917.5 447.5C904.2 449.5 890.8 451.8 877.5 453.5C864.2 455.2 850.8 455.8 837.5 457.5C824.2 459.2 810.8 461.7 797.5 463.5C784.2 465.3 769.2 467.2 757.5 468.5C745.8 469.8 737.5 470.7 727.5 471C717.5 471.3 705.2 470.9 697.5 470.5C689.8 470.1 690.8 469 681.5 468.5C672.2 468 654.8 467.7 641.5 467.5C628.2 467.3 614.8 467.5 601.5 467.5C588.2 467.5 573.2 467.9 561.5 467.5C549.8 467.1 540.7 466.2 531.5 465C522.3 463.8 514.8 461.9 506.5 460C498.2 458.1 489 455.4 481.5 453.5C474 451.6 467.8 449.5 461.5 448.5C455.2 447.5 449.8 446.7 444 447.5C438.2 448.3 432.8 451 426.5 453.5C420.2 456 413.2 459.3 406.5 462.5C399.8 465.7 394 469.8 386.5 472.5C379 475.2 369 477.2 361.5 478.5C354 479.8 347.3 480.2 341.5 480.5C335.7 480.8 334.8 481 326.5 480.5C318.2 480 303.2 478.6 291.5 477.5C279.8 476.4 267.3 475.5 256.5 474C245.7 472.5 235.7 470.8 226.5 468.5C217.3 466.2 209 463.1 201.5 460C194 456.9 188.2 453.3 181.5 450C174.8 446.7 168.2 442.5 161.5 440C154.8 437.5 149.8 436.1 141.5 435C133.2 433.9 121.5 434.1 111.5 433.5C101.5 432.9 91.5 432.2 81.5 431.5C71.5 430.8 61.5 429.8 51.5 429.5C41.5 429.2 30.1 429.2 21.5 429.5C12.9 429.8 6.7 431 0 431.5C-6.7 432 -15.4 476.3 -18.5 432.5C-21.6 388.7 -21.6 212.2 -18.5 168.5Z" fill="#16ffe1"/>
<path d="M664 377.5C664.6 371.2 666.5 364.2 669 357.5C671.5 350.8 676.2 343 679 337.5C681.8 332 683.4 328.7 685.5 324.5C687.6 320.3 688.8 317.8 691.5 312.5C694.2 307.2 697.8 299.2 701.5 292.5C705.2 285.8 709.4 279.2 714 272.5C718.6 265.8 723.6 259.2 729 252.5C734.4 245.8 740.2 239.2 746.5 232.5C752.8 225.8 759 218.8 766.5 212.5C774 206.2 782.3 200.4 791.5 195C800.7 189.6 810.7 184.2 821.5 180C832.3 175.8 844.8 172.2 856.5 170C868.2 167.8 879 167.3 891.5 166.5C904 165.7 915.5 165.2 931.5 165C947.5 164.8 969.8 164.6 987.5 165C1005.2 165.4 1020.8 166.2 1037.5 167.5C1054.2 168.8 1072.5 170.7 1087.5 172.5C1102.5 174.3 1114.2 176 1127.5 178.5C1140.8 181 1154.2 184.3 1167.5 187.5C1180.8 190.7 1194.2 194 1207.5 197.5C1220.8 201 1236.7 205.2 1247.5 208.5C1258.3 211.8 1265.8 214.3 1272.5 217.5C1279.2 220.7 1284.6 224.6 1287.5 227.5C1290.4 230.4 1291.2 232.1 1290 235C1288.8 237.9 1284.6 241.2 1280 245C1275.4 248.8 1268.8 252.9 1262.5 257.5C1256.2 262.1 1249.2 267.5 1242.5 272.5C1235.8 277.5 1229.2 282.5 1222.5 287.5C1215.8 292.5 1208.8 297.5 1202.5 302.5C1196.2 307.5 1189.6 312.9 1185 317.5C1180.4 322.1 1179.6 329.2 1175 330C1170.4 330.8 1163.3 325.4 1157.5 322.5C1151.7 319.6 1145.8 315.7 1140 312.5C1134.2 309.3 1128.8 305.8 1122.5 303.5C1116.2 301.2 1108.8 298.8 1102.5 299C1096.2 299.2 1089.6 301.9 1085 305C1080.4 308.1 1077.1 312.9 1075 317.5C1072.9 322.1 1073.3 326.7 1072.5 332.5C1071.7 338.3 1070.8 346.7 1070 352.5C1069.2 358.3 1070.4 364 1067.5 367.5C1064.6 371 1058.3 372.7 1052.5 373.5C1046.7 374.3 1039.2 373.7 1032.5 372.5C1025.8 371.3 1019.2 368.6 1012.5 366.5C1005.8 364.4 999.2 361.1 992.5 360C985.8 358.9 978.3 358.8 972.5 360C966.7 361.2 962.1 364.2 957.5 367.5C952.9 370.8 949.2 375.8 945 380C940.8 384.2 937.1 388.8 932.5 392.5C927.9 396.2 923.3 399.8 917.5 402.5C911.7 405.2 905 407.2 897.5 408.5C890 409.8 880.8 410.3 872.5 410C864.2 409.7 855.8 407.8 847.5 406.5C839.2 405.2 830.8 402.8 822.5 402.5C814.2 402.2 805.8 403.3 797.5 405C789.2 406.7 781.7 409.6 772.5 412.5C763.3 415.4 751.7 420 742.5 422.5C733.3 425 726 427.7 717.5 427.5C709 427.3 698.8 424.4 691.5 421.5C684.2 418.6 678.3 414.4 674 410C669.7 405.6 667.2 400.4 665.5 395C663.8 389.6 663.4 383.8 664 377.5Z" fill="#e4ff13"/>
<path d="M737.5 332.5C738.1 326.2 741.7 320 745 312.5C748.3 305 752.1 295.8 757.5 287.5C762.9 279.2 770.4 270 777.5 262.5C784.6 255 792.5 247.5 800 242.5C807.5 237.5 815.4 234.2 822.5 232.5C829.6 230.8 836.7 231.2 842.5 232.5C848.3 233.8 854.6 237.1 857.5 240C860.4 242.9 861.2 245.4 860 250C858.8 254.6 853.8 261.2 850 267.5C846.2 273.8 841.7 280.8 837.5 287.5C833.3 294.2 828.8 301.2 825 307.5C821.2 313.8 818.9 320 815 325C811.1 330 806.2 333.8 801.5 337.5C796.8 341.2 791.9 344.3 786.5 347.5C781.1 350.7 774.4 354.7 769 356.5C763.6 358.3 758.6 359.6 754 358.5C749.4 357.4 744.2 354.3 741.5 350C738.8 345.7 736.9 338.8 737.5 332.5Z" fill="#ff1e00"/>
<path d="M940 241.5C940.8 238.7 947.5 237.5 952.5 236.5C957.5 235.5 964.2 235.2 970 235.5C975.8 235.8 983.1 236.9 987.5 238.5C991.9 240.1 995.7 242.7 996.5 245C997.3 247.3 994.8 250 992.5 252.5C990.2 255 986.2 258.2 982.5 260C978.8 261.8 974.2 263.2 970 263.5C965.8 263.8 961.2 263.2 957.5 261.5C953.8 259.8 950.4 256.8 947.5 253.5C944.6 250.2 939.2 244.3 940 241.5Z" fill="#ff1e00"/>
<path d="M499 280C498.8 278.2 504.5 272.2 506.5 271.5C508.5 270.8 520.3 270.7 522.5 271.5C524.7 272.3 532.2 279.7 532.5 281.5C532.8 283.3 528.5 292.5 526.5 293.5C524.5 294.5 511.3 294.6 509 293.5C506.7 292.4 499.2 281.8 499 280Z" fill="#e4ff13"/>
<path d="M429 363.5C429.8 362.8 437.3 362.4 439 362.5C440.7 362.6 448.3 364.2 449 365C449.7 365.8 448.3 371.5 447.5 372.5C446.7 373.5 440.3 377 439 377.5C437.7 378 432.3 379 431.5 378.5C430.7 378 429.2 372.8 429 371.5C428.8 370.2 428.2 364.2 429 363.5Z" fill="#0000ff"/>
<use href="#coast"/>
</g>
<rect x="0" y="0" width="1331" height="656" fill="none" stroke="#000" stroke-width="3.33"/>
</g>
<text x="744" y="2077" font-size="50" text-anchor="middle" xml:space="preserve">Plasmasphere (h=1500.0 km), 2006-08-23 17:00 UT</text>
<rect x="78.5" y="2801.5" width="333.2" height="66" fill="#0000ff"/>
<rect x="411.2" y="2801.5" width="333.2" height="66" fill="#16ffe1"/>
<rect x="744" y="2801.5" width="333.2" height="66" fill="#e4ff13"/>
<rect x="1076.8" y="2801.5" width="332.8" height="66" fill="#ff1e00"/>
<rect x="78.5" y="2801.5" width="1331" height="66" fill="none" stroke="#000" stroke-width="3.33"/>
<line x1="78.5" y1="2867.5" x2="78.5" y2="2882.1" stroke="#000" stroke-width="3.33"/>
<text x="78.5" y="2929.1" font-size="41.67" text-anchor="middle">0.0</text>
<line x1="411.2" y1="2867.5" x2="411.2" y2="2882.1" stroke="#000" stroke-width="3.33"/>
<text x="411.2" y="2929.1" font-size="41.67" text-anchor="middle">2.5</text>
<line x1="744" y1="2867.5" x2="744" y2="2882.1" stroke="#000" stroke-width="3.33"/>
<text x="744" y="2929.1" font-size="41.67" text-anchor="middle">5.0</text>
<line x1="1076.8" y1="2867.5" x2="1076.8" y2="2882.1" stroke="#000" stroke-width="3.33"/>
<text x="1076.8" y="2929.1" font-size="41.67" text-anchor="middle">7.5</text>
<line x1="1409.5" y1="2867.5" x2="1409.5" y2="2882.1" stroke="#000" stroke-width="3.33"/>
<text x="1409.5" y="2929.1" font-size="41.67" text-anchor="middle">10.0</text>
</svg></body></html>
